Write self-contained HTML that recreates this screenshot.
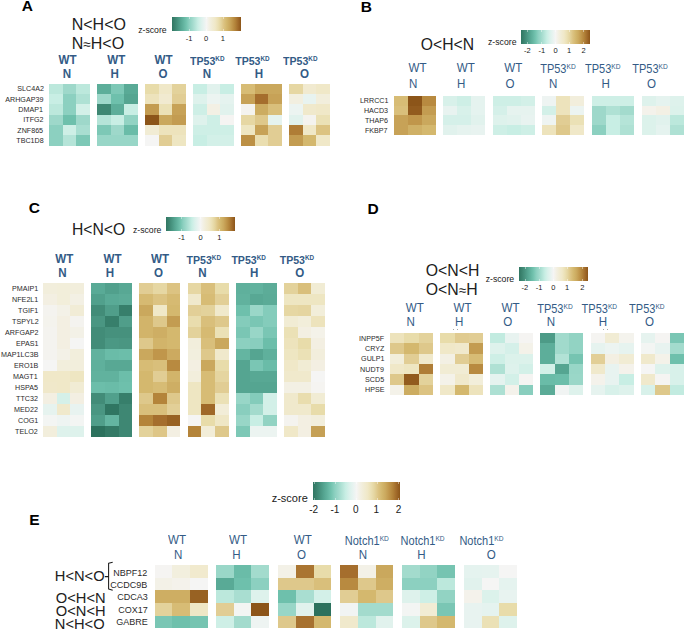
<!DOCTYPE html>
<html><head><meta charset="utf-8"><style>
html,body{margin:0;padding:0;background:#fff;}
body{width:685px;height:630px;position:relative;overflow:hidden;font-family:"Liberation Sans", sans-serif;}
body>div{position:absolute;}
.t{white-space:nowrap;}
sup{font-size:0.6em;vertical-align:0;position:relative;top:-0.58em;line-height:0;}
</style></head><body>
<div style="left:172px;top:17.2px;width:69px;height:13.8px;background:linear-gradient(to right,#307662 0.0%,#3c8470 4.2%,#489480 8.3%,#55a591 12.5%,#63b4a0 16.7%,#73c3af 20.8%,#8cd0c0 25.0%,#9fd9cb 29.2%,#b3e3d7 33.3%,#c8eee4 37.5%,#daf1eb 41.7%,#e7f3f0 45.8%,#f5f5f4 50.0%,#f3f0e3 54.2%,#f1ecd5 58.3%,#f0e8c8 62.5%,#ebe0b4 66.7%,#e4d49e 70.8%,#dcc382 75.0%,#d3b76d 79.2%,#cba95e 83.3%,#c0964b 87.5%,#b28239 91.7%,#a16a2a 95.8%,#8c5519 100.0%)"></div>
<div style="left:188.50px;top:17.2px;width:1px;height:2px;background:rgba(255,255,255,0.45)"></div>
<div style="left:188.50px;top:29.0px;width:1px;height:2px;background:rgba(255,255,255,0.45)"></div>
<div style="left:205.50px;top:17.2px;width:1px;height:2px;background:rgba(255,255,255,0.45)"></div>
<div style="left:205.50px;top:29.0px;width:1px;height:2px;background:rgba(255,255,255,0.45)"></div>
<div style="left:222.50px;top:17.2px;width:1px;height:2px;background:rgba(255,255,255,0.45)"></div>
<div style="left:222.50px;top:29.0px;width:1px;height:2px;background:rgba(255,255,255,0.45)"></div>
<div style="left:49.00px;top:83.60px;width:14.17px;height:10.83px;background:#bce8dc"></div>
<div style="left:62.67px;top:83.60px;width:14.17px;height:10.83px;background:#9ed8ca"></div>
<div style="left:76.33px;top:83.60px;width:13.67px;height:10.83px;background:#bce8dc"></div>
<div style="left:49.00px;top:93.93px;width:14.17px;height:10.83px;background:#c8eee4"></div>
<div style="left:62.67px;top:93.93px;width:14.17px;height:10.83px;background:#8cd0c0"></div>
<div style="left:76.33px;top:93.93px;width:13.67px;height:10.83px;background:#afe1d4"></div>
<div style="left:49.00px;top:104.26px;width:14.17px;height:10.83px;background:#bce8dc"></div>
<div style="left:62.67px;top:104.26px;width:14.17px;height:10.83px;background:#8cd0c0"></div>
<div style="left:76.33px;top:104.26px;width:13.67px;height:10.83px;background:#d3f0e8"></div>
<div style="left:49.00px;top:114.59px;width:14.17px;height:10.83px;background:#9ed8ca"></div>
<div style="left:62.67px;top:114.59px;width:14.17px;height:10.83px;background:#6ec0ac"></div>
<div style="left:76.33px;top:114.59px;width:13.67px;height:10.83px;background:#9ed8ca"></div>
<div style="left:49.00px;top:124.92px;width:14.17px;height:10.83px;background:#8cd0c0"></div>
<div style="left:62.67px;top:124.92px;width:14.17px;height:10.83px;background:#ceefe6"></div>
<div style="left:76.33px;top:124.92px;width:13.67px;height:10.83px;background:#a9ded1"></div>
<div style="left:49.00px;top:135.25px;width:14.17px;height:10.33px;background:#8cd0c0"></div>
<div style="left:62.67px;top:135.25px;width:14.17px;height:10.33px;background:#b5e4d8"></div>
<div style="left:76.33px;top:135.25px;width:13.67px;height:10.33px;background:#7dc8b6"></div>
<div style="left:97.00px;top:83.60px;width:14.17px;height:10.83px;background:#5dae9a"></div>
<div style="left:110.67px;top:83.60px;width:14.17px;height:10.83px;background:#7dc8b6"></div>
<div style="left:124.33px;top:83.60px;width:13.67px;height:10.83px;background:#59aa96"></div>
<div style="left:97.00px;top:93.93px;width:14.17px;height:10.83px;background:#9ed8ca"></div>
<div style="left:110.67px;top:93.93px;width:14.17px;height:10.83px;background:#6ec0ac"></div>
<div style="left:124.33px;top:93.93px;width:13.67px;height:10.83px;background:#55a591"></div>
<div style="left:97.00px;top:104.26px;width:14.17px;height:10.83px;background:#3e8773"></div>
<div style="left:110.67px;top:104.26px;width:14.17px;height:10.83px;background:#5dae9a"></div>
<div style="left:124.33px;top:104.26px;width:13.67px;height:10.83px;background:#c8eee4"></div>
<div style="left:97.00px;top:114.59px;width:14.17px;height:10.83px;background:#b5e4d8"></div>
<div style="left:110.67px;top:114.59px;width:14.17px;height:10.83px;background:#c8eee4"></div>
<div style="left:124.33px;top:114.59px;width:13.67px;height:10.83px;background:#92d3c3"></div>
<div style="left:97.00px;top:124.92px;width:14.17px;height:10.83px;background:#7dc8b6"></div>
<div style="left:110.67px;top:124.92px;width:14.17px;height:10.83px;background:#9ed8ca"></div>
<div style="left:124.33px;top:124.92px;width:13.67px;height:10.83px;background:#6abca8"></div>
<div style="left:97.00px;top:135.25px;width:14.17px;height:10.33px;background:#98d6c7"></div>
<div style="left:110.67px;top:135.25px;width:14.17px;height:10.33px;background:#98d6c7"></div>
<div style="left:124.33px;top:135.25px;width:13.67px;height:10.33px;background:#98d6c7"></div>
<div style="left:145.00px;top:83.60px;width:14.17px;height:10.83px;background:#e8dcaa"></div>
<div style="left:158.67px;top:83.60px;width:14.17px;height:10.83px;background:#f0e8c8"></div>
<div style="left:172.33px;top:83.60px;width:13.67px;height:10.83px;background:#e3d29b"></div>
<div style="left:145.00px;top:93.93px;width:14.17px;height:10.83px;background:#ede3bc"></div>
<div style="left:158.67px;top:93.93px;width:14.17px;height:10.83px;background:#f1ead0"></div>
<div style="left:172.33px;top:93.93px;width:13.67px;height:10.83px;background:#e1cd94"></div>
<div style="left:145.00px;top:104.26px;width:14.17px;height:10.83px;background:#c39c51"></div>
<div style="left:158.67px;top:104.26px;width:14.17px;height:10.83px;background:#ebe1b6"></div>
<div style="left:172.33px;top:104.26px;width:13.67px;height:10.83px;background:#c7a257"></div>
<div style="left:145.00px;top:114.59px;width:14.17px;height:10.83px;background:#8c5519"></div>
<div style="left:158.67px;top:114.59px;width:14.17px;height:10.83px;background:#caa85d"></div>
<div style="left:172.33px;top:114.59px;width:13.67px;height:10.83px;background:#c39c51"></div>
<div style="left:145.00px;top:124.92px;width:14.17px;height:10.83px;background:#f1ecd4"></div>
<div style="left:158.67px;top:124.92px;width:14.17px;height:10.83px;background:#ede3bc"></div>
<div style="left:172.33px;top:124.92px;width:13.67px;height:10.83px;background:#ede3bc"></div>
<div style="left:145.00px;top:135.25px;width:14.17px;height:10.33px;background:#f5f5f4"></div>
<div style="left:158.67px;top:135.25px;width:14.17px;height:10.33px;background:#e1cd94"></div>
<div style="left:172.33px;top:135.25px;width:13.67px;height:10.33px;background:#eee6c2"></div>
<div style="left:193.00px;top:83.60px;width:14.17px;height:10.83px;background:#c8eee4"></div>
<div style="left:206.67px;top:83.60px;width:14.17px;height:10.83px;background:#e1f2ed"></div>
<div style="left:220.33px;top:83.60px;width:13.67px;height:10.83px;background:#c8eee4"></div>
<div style="left:193.00px;top:93.93px;width:14.17px;height:10.83px;background:#def2ec"></div>
<div style="left:206.67px;top:93.93px;width:14.17px;height:10.83px;background:#ecf4f1"></div>
<div style="left:220.33px;top:93.93px;width:13.67px;height:10.83px;background:#e5f3ef"></div>
<div style="left:193.00px;top:104.26px;width:14.17px;height:10.83px;background:#ceefe6"></div>
<div style="left:206.67px;top:104.26px;width:14.17px;height:10.83px;background:#f3f0e4"></div>
<div style="left:220.33px;top:104.26px;width:13.67px;height:10.83px;background:#e1f2ed"></div>
<div style="left:193.00px;top:114.59px;width:14.17px;height:10.83px;background:#def2ec"></div>
<div style="left:206.67px;top:114.59px;width:14.17px;height:10.83px;background:#ceefe6"></div>
<div style="left:220.33px;top:114.59px;width:13.67px;height:10.83px;background:#f5f4f2"></div>
<div style="left:193.00px;top:124.92px;width:14.17px;height:10.83px;background:#ceefe6"></div>
<div style="left:206.67px;top:124.92px;width:14.17px;height:10.83px;background:#ceefe6"></div>
<div style="left:220.33px;top:124.92px;width:13.67px;height:10.83px;background:#ceefe6"></div>
<div style="left:193.00px;top:135.25px;width:14.17px;height:10.33px;background:#c8eee4"></div>
<div style="left:206.67px;top:135.25px;width:14.17px;height:10.33px;background:#d3f0e8"></div>
<div style="left:220.33px;top:135.25px;width:13.67px;height:10.33px;background:#d3f0e8"></div>
<div style="left:241.00px;top:83.60px;width:14.17px;height:10.83px;background:#d7bc75"></div>
<div style="left:254.67px;top:83.60px;width:14.17px;height:10.83px;background:#caa85d"></div>
<div style="left:268.33px;top:83.60px;width:13.67px;height:10.83px;background:#caa85d"></div>
<div style="left:241.00px;top:93.93px;width:14.17px;height:10.83px;background:#c7a257"></div>
<div style="left:254.67px;top:93.93px;width:14.17px;height:10.83px;background:#a56e2d"></div>
<div style="left:268.33px;top:93.93px;width:13.67px;height:10.83px;background:#c7a257"></div>
<div style="left:241.00px;top:104.26px;width:14.17px;height:10.83px;background:#f4f3ef"></div>
<div style="left:254.67px;top:104.26px;width:14.17px;height:10.83px;background:#ccac61"></div>
<div style="left:268.33px;top:104.26px;width:13.67px;height:10.83px;background:#d9bf7b"></div>
<div style="left:241.00px;top:114.59px;width:14.17px;height:10.83px;background:#e6d7a3"></div>
<div style="left:254.67px;top:114.59px;width:14.17px;height:10.83px;background:#dec88b"></div>
<div style="left:268.33px;top:114.59px;width:13.67px;height:10.83px;background:#e5f3ef"></div>
<div style="left:241.00px;top:124.92px;width:14.17px;height:10.83px;background:#eee6c2"></div>
<div style="left:254.67px;top:124.92px;width:14.17px;height:10.83px;background:#c7a257"></div>
<div style="left:268.33px;top:124.92px;width:13.67px;height:10.83px;background:#e1cd94"></div>
<div style="left:241.00px;top:135.25px;width:14.17px;height:10.33px;background:#bc9045"></div>
<div style="left:254.67px;top:135.25px;width:14.17px;height:10.33px;background:#eadeb0"></div>
<div style="left:268.33px;top:135.25px;width:13.67px;height:10.33px;background:#e1cd94"></div>
<div style="left:289.00px;top:83.60px;width:14.17px;height:10.83px;background:#e6d7a3"></div>
<div style="left:302.67px;top:83.60px;width:14.17px;height:10.83px;background:#f1ead0"></div>
<div style="left:316.33px;top:83.60px;width:13.67px;height:10.83px;background:#f0e8c8"></div>
<div style="left:289.00px;top:93.93px;width:14.17px;height:10.83px;background:#f2efe0"></div>
<div style="left:302.67px;top:93.93px;width:14.17px;height:10.83px;background:#e8f3f0"></div>
<div style="left:316.33px;top:93.93px;width:13.67px;height:10.83px;background:#f2eedc"></div>
<div style="left:289.00px;top:104.26px;width:14.17px;height:10.83px;background:#ecf4f1"></div>
<div style="left:302.67px;top:104.26px;width:14.17px;height:10.83px;background:#f0e9cc"></div>
<div style="left:316.33px;top:104.26px;width:13.67px;height:10.83px;background:#f0e8c8"></div>
<div style="left:289.00px;top:114.59px;width:14.17px;height:10.83px;background:#e1f2ed"></div>
<div style="left:302.67px;top:114.59px;width:14.17px;height:10.83px;background:#f4f3ef"></div>
<div style="left:316.33px;top:114.59px;width:13.67px;height:10.83px;background:#ebe1b6"></div>
<div style="left:289.00px;top:124.92px;width:14.17px;height:10.83px;background:#af7d36"></div>
<div style="left:302.67px;top:124.92px;width:14.17px;height:10.83px;background:#f0e8c8"></div>
<div style="left:316.33px;top:124.92px;width:13.67px;height:10.83px;background:#dcc382"></div>
<div style="left:289.00px;top:135.25px;width:14.17px;height:10.33px;background:#c39c51"></div>
<div style="left:302.67px;top:135.25px;width:14.17px;height:10.33px;background:#d4b86e"></div>
<div style="left:316.33px;top:135.25px;width:13.67px;height:10.33px;background:#f0e8c8"></div>
<div style="left:521px;top:29.9px;width:69px;height:13.8px;background:linear-gradient(to right,#307662 0.0%,#3c8470 4.2%,#489480 8.3%,#55a591 12.5%,#63b4a0 16.7%,#73c3af 20.8%,#8cd0c0 25.0%,#9fd9cb 29.2%,#b3e3d7 33.3%,#c8eee4 37.5%,#daf1eb 41.7%,#e7f3f0 45.8%,#f5f5f4 50.0%,#f3f0e3 54.2%,#f1ecd5 58.3%,#f0e8c8 62.5%,#ebe0b4 66.7%,#e4d49e 70.8%,#dcc382 75.0%,#d3b76d 79.2%,#cba95e 83.3%,#c0964b 87.5%,#b28239 91.7%,#a16a2a 95.8%,#8c5519 100.0%)"></div>
<div style="left:527.00px;top:29.9px;width:1px;height:2px;background:rgba(255,255,255,0.45)"></div>
<div style="left:527.00px;top:41.7px;width:1px;height:2px;background:rgba(255,255,255,0.45)"></div>
<div style="left:541.00px;top:29.9px;width:1px;height:2px;background:rgba(255,255,255,0.45)"></div>
<div style="left:541.00px;top:41.7px;width:1px;height:2px;background:rgba(255,255,255,0.45)"></div>
<div style="left:555.00px;top:29.9px;width:1px;height:2px;background:rgba(255,255,255,0.45)"></div>
<div style="left:555.00px;top:41.7px;width:1px;height:2px;background:rgba(255,255,255,0.45)"></div>
<div style="left:569.00px;top:29.9px;width:1px;height:2px;background:rgba(255,255,255,0.45)"></div>
<div style="left:569.00px;top:41.7px;width:1px;height:2px;background:rgba(255,255,255,0.45)"></div>
<div style="left:583.00px;top:29.9px;width:1px;height:2px;background:rgba(255,255,255,0.45)"></div>
<div style="left:583.00px;top:41.7px;width:1px;height:2px;background:rgba(255,255,255,0.45)"></div>
<div style="left:394.00px;top:95.90px;width:14.67px;height:10.25px;background:#d7bc75"></div>
<div style="left:408.17px;top:95.90px;width:14.67px;height:10.25px;background:#8c5519"></div>
<div style="left:422.33px;top:95.90px;width:14.17px;height:10.25px;background:#b88a40"></div>
<div style="left:394.00px;top:105.65px;width:14.67px;height:10.25px;background:#d9bf7b"></div>
<div style="left:408.17px;top:105.65px;width:14.67px;height:10.25px;background:#925b1e"></div>
<div style="left:422.33px;top:105.65px;width:14.17px;height:10.25px;background:#c39c51"></div>
<div style="left:394.00px;top:115.40px;width:14.67px;height:10.25px;background:#c7a257"></div>
<div style="left:408.17px;top:115.40px;width:14.67px;height:10.25px;background:#c0964b"></div>
<div style="left:422.33px;top:115.40px;width:14.17px;height:10.25px;background:#caa85d"></div>
<div style="left:394.00px;top:125.15px;width:14.67px;height:9.75px;background:#c7a257"></div>
<div style="left:408.17px;top:125.15px;width:14.67px;height:9.75px;background:#cfb066"></div>
<div style="left:422.33px;top:125.15px;width:14.17px;height:9.75px;background:#d4b86e"></div>
<div style="left:443.00px;top:95.90px;width:14.67px;height:10.25px;background:#d8f1ea"></div>
<div style="left:457.17px;top:95.90px;width:14.67px;height:10.25px;background:#ceefe6"></div>
<div style="left:471.33px;top:95.90px;width:14.17px;height:10.25px;background:#e5f3ef"></div>
<div style="left:443.00px;top:105.65px;width:14.67px;height:10.25px;background:#e8f3f0"></div>
<div style="left:457.17px;top:105.65px;width:14.67px;height:10.25px;background:#d8f1ea"></div>
<div style="left:471.33px;top:105.65px;width:14.17px;height:10.25px;background:#e5f3ef"></div>
<div style="left:443.00px;top:115.40px;width:14.67px;height:10.25px;background:#d5f0e9"></div>
<div style="left:457.17px;top:115.40px;width:14.67px;height:10.25px;background:#d5f0e9"></div>
<div style="left:471.33px;top:115.40px;width:14.17px;height:10.25px;background:#e1f2ed"></div>
<div style="left:443.00px;top:125.15px;width:14.67px;height:9.75px;background:#e1f2ed"></div>
<div style="left:457.17px;top:125.15px;width:14.67px;height:9.75px;background:#e6f3ef"></div>
<div style="left:471.33px;top:125.15px;width:14.17px;height:9.75px;background:#e8f3f0"></div>
<div style="left:493.00px;top:95.90px;width:14.67px;height:10.25px;background:#ceefe6"></div>
<div style="left:507.17px;top:95.90px;width:14.67px;height:10.25px;background:#ceefe6"></div>
<div style="left:521.33px;top:95.90px;width:14.17px;height:10.25px;background:#d3f0e8"></div>
<div style="left:493.00px;top:105.65px;width:14.67px;height:10.25px;background:#d5f0e9"></div>
<div style="left:507.17px;top:105.65px;width:14.67px;height:10.25px;background:#e6f3ef"></div>
<div style="left:521.33px;top:105.65px;width:14.17px;height:10.25px;background:#e6f3ef"></div>
<div style="left:493.00px;top:115.40px;width:14.67px;height:10.25px;background:#def2ec"></div>
<div style="left:507.17px;top:115.40px;width:14.67px;height:10.25px;background:#e1f2ed"></div>
<div style="left:521.33px;top:115.40px;width:14.17px;height:10.25px;background:#e8f3f0"></div>
<div style="left:493.00px;top:125.15px;width:14.67px;height:9.75px;background:#ceefe6"></div>
<div style="left:507.17px;top:125.15px;width:14.67px;height:9.75px;background:#c8eee4"></div>
<div style="left:521.33px;top:125.15px;width:14.17px;height:9.75px;background:#ceefe6"></div>
<div style="left:542.00px;top:95.90px;width:14.67px;height:10.25px;background:#eef4f2"></div>
<div style="left:556.17px;top:95.90px;width:14.67px;height:10.25px;background:#ede3bc"></div>
<div style="left:570.33px;top:95.90px;width:14.17px;height:10.25px;background:#f2eedc"></div>
<div style="left:542.00px;top:105.65px;width:14.67px;height:10.25px;background:#d3f0e8"></div>
<div style="left:556.17px;top:105.65px;width:14.67px;height:10.25px;background:#ede3bc"></div>
<div style="left:570.33px;top:105.65px;width:14.17px;height:10.25px;background:#ecf4f1"></div>
<div style="left:542.00px;top:115.40px;width:14.67px;height:10.25px;background:#eef4f2"></div>
<div style="left:556.17px;top:115.40px;width:14.67px;height:10.25px;background:#e1cd94"></div>
<div style="left:570.33px;top:115.40px;width:14.17px;height:10.25px;background:#ebe1b6"></div>
<div style="left:542.00px;top:125.15px;width:14.67px;height:9.75px;background:#ede3bc"></div>
<div style="left:556.17px;top:125.15px;width:14.67px;height:9.75px;background:#dec88b"></div>
<div style="left:570.33px;top:125.15px;width:14.17px;height:9.75px;background:#f0e8c8"></div>
<div style="left:592.00px;top:95.90px;width:14.67px;height:10.25px;background:#ceefe6"></div>
<div style="left:606.17px;top:95.90px;width:14.67px;height:10.25px;background:#ceefe6"></div>
<div style="left:620.33px;top:95.90px;width:14.17px;height:10.25px;background:#ceefe6"></div>
<div style="left:592.00px;top:105.65px;width:14.67px;height:10.25px;background:#9ed8ca"></div>
<div style="left:606.17px;top:105.65px;width:14.67px;height:10.25px;background:#afe1d4"></div>
<div style="left:620.33px;top:105.65px;width:14.17px;height:10.25px;background:#a3dbcd"></div>
<div style="left:592.00px;top:115.40px;width:14.67px;height:10.25px;background:#9ed8ca"></div>
<div style="left:606.17px;top:115.40px;width:14.67px;height:10.25px;background:#c8eee4"></div>
<div style="left:620.33px;top:115.40px;width:14.17px;height:10.25px;background:#b5e4d8"></div>
<div style="left:592.00px;top:125.15px;width:14.67px;height:9.75px;background:#8cd0c0"></div>
<div style="left:606.17px;top:125.15px;width:14.67px;height:9.75px;background:#c8eee4"></div>
<div style="left:620.33px;top:125.15px;width:14.17px;height:9.75px;background:#afe1d4"></div>
<div style="left:641.60px;top:95.90px;width:14.67px;height:10.25px;background:#def2ec"></div>
<div style="left:655.77px;top:95.90px;width:14.67px;height:10.25px;background:#e5f3ef"></div>
<div style="left:669.93px;top:95.90px;width:14.17px;height:10.25px;background:#def2ec"></div>
<div style="left:641.60px;top:105.65px;width:14.67px;height:10.25px;background:#f4f2eb"></div>
<div style="left:655.77px;top:105.65px;width:14.67px;height:10.25px;background:#f3f0e4"></div>
<div style="left:669.93px;top:105.65px;width:14.17px;height:10.25px;background:#dcf2eb"></div>
<div style="left:641.60px;top:115.40px;width:14.67px;height:10.25px;background:#dcf2eb"></div>
<div style="left:655.77px;top:115.40px;width:14.67px;height:10.25px;background:#e1f2ed"></div>
<div style="left:669.93px;top:115.40px;width:14.17px;height:10.25px;background:#bce8dc"></div>
<div style="left:641.60px;top:125.15px;width:14.67px;height:9.75px;background:#dcf2eb"></div>
<div style="left:655.77px;top:125.15px;width:14.67px;height:9.75px;background:#e5f3ef"></div>
<div style="left:669.93px;top:125.15px;width:14.17px;height:9.75px;background:#afe1d4"></div>
<div style="left:166.2px;top:217px;width:69.2px;height:13.7px;background:linear-gradient(to right,#307662 0.0%,#3c8470 4.2%,#489480 8.3%,#55a591 12.5%,#63b4a0 16.7%,#73c3af 20.8%,#8cd0c0 25.0%,#9fd9cb 29.2%,#b3e3d7 33.3%,#c8eee4 37.5%,#daf1eb 41.7%,#e7f3f0 45.8%,#f5f5f4 50.0%,#f3f0e3 54.2%,#f1ecd5 58.3%,#f0e8c8 62.5%,#ebe0b4 66.7%,#e4d49e 70.8%,#dcc382 75.0%,#d3b76d 79.2%,#cba95e 83.3%,#c0964b 87.5%,#b28239 91.7%,#a16a2a 95.8%,#8c5519 100.0%)"></div>
<div style="left:181.00px;top:217px;width:1px;height:2px;background:rgba(255,255,255,0.45)"></div>
<div style="left:181.00px;top:228.7px;width:1px;height:2px;background:rgba(255,255,255,0.45)"></div>
<div style="left:200.00px;top:217px;width:1px;height:2px;background:rgba(255,255,255,0.45)"></div>
<div style="left:200.00px;top:228.7px;width:1px;height:2px;background:rgba(255,255,255,0.45)"></div>
<div style="left:219.00px;top:217px;width:1px;height:2px;background:rgba(255,255,255,0.45)"></div>
<div style="left:219.00px;top:228.7px;width:1px;height:2px;background:rgba(255,255,255,0.45)"></div>
<div style="left:43.10px;top:283.10px;width:14.17px;height:11.47px;background:#f2eedc"></div>
<div style="left:56.77px;top:283.10px;width:14.17px;height:11.47px;background:#f2eeda"></div>
<div style="left:70.43px;top:283.10px;width:13.67px;height:11.47px;background:#f2eedc"></div>
<div style="left:43.10px;top:294.07px;width:14.17px;height:11.47px;background:#f3efe2"></div>
<div style="left:56.77px;top:294.07px;width:14.17px;height:11.47px;background:#f2eeda"></div>
<div style="left:70.43px;top:294.07px;width:13.67px;height:11.47px;background:#f3f0e4"></div>
<div style="left:43.10px;top:305.04px;width:14.17px;height:11.47px;background:#f4f3ef"></div>
<div style="left:56.77px;top:305.04px;width:14.17px;height:11.47px;background:#f3f1e7"></div>
<div style="left:70.43px;top:305.04px;width:13.67px;height:11.47px;background:#f1ecd6"></div>
<div style="left:43.10px;top:316.01px;width:14.17px;height:11.47px;background:#f4f3ed"></div>
<div style="left:56.77px;top:316.01px;width:14.17px;height:11.47px;background:#f3efe2"></div>
<div style="left:70.43px;top:316.01px;width:13.67px;height:11.47px;background:#f4f3ef"></div>
<div style="left:43.10px;top:326.98px;width:14.17px;height:11.47px;background:#f4f3ef"></div>
<div style="left:56.77px;top:326.98px;width:14.17px;height:11.47px;background:#f3efe2"></div>
<div style="left:70.43px;top:326.98px;width:13.67px;height:11.47px;background:#f3f1e7"></div>
<div style="left:43.10px;top:337.95px;width:14.17px;height:11.47px;background:#f4f3ef"></div>
<div style="left:56.77px;top:337.95px;width:14.17px;height:11.47px;background:#f3efe2"></div>
<div style="left:70.43px;top:337.95px;width:13.67px;height:11.47px;background:#f5f5f4"></div>
<div style="left:43.10px;top:348.92px;width:14.17px;height:11.47px;background:#f4f3ef"></div>
<div style="left:56.77px;top:348.92px;width:14.17px;height:11.47px;background:#f3f1e7"></div>
<div style="left:70.43px;top:348.92px;width:13.67px;height:11.47px;background:#f2eedc"></div>
<div style="left:43.10px;top:359.89px;width:14.17px;height:11.47px;background:#f5f5f4"></div>
<div style="left:56.77px;top:359.89px;width:14.17px;height:11.47px;background:#f2eedc"></div>
<div style="left:70.43px;top:359.89px;width:13.67px;height:11.47px;background:#f2eedc"></div>
<div style="left:43.10px;top:370.86px;width:14.17px;height:11.47px;background:#f0e8c8"></div>
<div style="left:56.77px;top:370.86px;width:14.17px;height:11.47px;background:#f0e8c8"></div>
<div style="left:70.43px;top:370.86px;width:13.67px;height:11.47px;background:#eee6c2"></div>
<div style="left:43.10px;top:381.83px;width:14.17px;height:11.47px;background:#f0e8ca"></div>
<div style="left:56.77px;top:381.83px;width:14.17px;height:11.47px;background:#f0e8c8"></div>
<div style="left:70.43px;top:381.83px;width:13.67px;height:11.47px;background:#f1ecd4"></div>
<div style="left:43.10px;top:392.80px;width:14.17px;height:11.47px;background:#f3efe2"></div>
<div style="left:56.77px;top:392.80px;width:14.17px;height:11.47px;background:#d5f0e9"></div>
<div style="left:70.43px;top:392.80px;width:13.67px;height:11.47px;background:#f3efe2"></div>
<div style="left:43.10px;top:403.77px;width:14.17px;height:11.47px;background:#e6f3ef"></div>
<div style="left:56.77px;top:403.77px;width:14.17px;height:11.47px;background:#f0e9cc"></div>
<div style="left:70.43px;top:403.77px;width:13.67px;height:11.47px;background:#e8f3f0"></div>
<div style="left:43.10px;top:414.74px;width:14.17px;height:11.47px;background:#f3f5f3"></div>
<div style="left:56.77px;top:414.74px;width:14.17px;height:11.47px;background:#eef4f2"></div>
<div style="left:70.43px;top:414.74px;width:13.67px;height:11.47px;background:#f3f5f3"></div>
<div style="left:43.10px;top:425.71px;width:14.17px;height:10.97px;background:#f2eedc"></div>
<div style="left:56.77px;top:425.71px;width:14.17px;height:10.97px;background:#def2ec"></div>
<div style="left:70.43px;top:425.71px;width:13.67px;height:10.97px;background:#def2ec"></div>
<div style="left:91.20px;top:283.10px;width:14.17px;height:11.47px;background:#59aa96"></div>
<div style="left:104.87px;top:283.10px;width:14.17px;height:11.47px;background:#51a08c"></div>
<div style="left:118.53px;top:283.10px;width:13.67px;height:11.47px;background:#58a894"></div>
<div style="left:91.20px;top:294.07px;width:14.17px;height:11.47px;background:#51a08c"></div>
<div style="left:104.87px;top:294.07px;width:14.17px;height:11.47px;background:#59aa96"></div>
<div style="left:118.53px;top:294.07px;width:13.67px;height:11.47px;background:#5cac98"></div>
<div style="left:91.20px;top:305.04px;width:14.17px;height:11.47px;background:#428c78"></div>
<div style="left:104.87px;top:305.04px;width:14.17px;height:11.47px;background:#509e8a"></div>
<div style="left:118.53px;top:305.04px;width:13.67px;height:11.47px;background:#377f6b"></div>
<div style="left:91.20px;top:316.01px;width:14.17px;height:11.47px;background:#4a9682"></div>
<div style="left:104.87px;top:316.01px;width:14.17px;height:11.47px;background:#377f6b"></div>
<div style="left:118.53px;top:316.01px;width:13.67px;height:11.47px;background:#509e8a"></div>
<div style="left:91.20px;top:326.98px;width:14.17px;height:11.47px;background:#428c78"></div>
<div style="left:104.87px;top:326.98px;width:14.17px;height:11.47px;background:#46917d"></div>
<div style="left:118.53px;top:326.98px;width:13.67px;height:11.47px;background:#46917d"></div>
<div style="left:91.20px;top:337.95px;width:14.17px;height:11.47px;background:#428c78"></div>
<div style="left:104.87px;top:337.95px;width:14.17px;height:11.47px;background:#4b9884"></div>
<div style="left:118.53px;top:337.95px;width:13.67px;height:11.47px;background:#4a9682"></div>
<div style="left:91.20px;top:348.92px;width:14.17px;height:11.47px;background:#61b29e"></div>
<div style="left:104.87px;top:348.92px;width:14.17px;height:11.47px;background:#6abca8"></div>
<div style="left:118.53px;top:348.92px;width:13.67px;height:11.47px;background:#6cbeaa"></div>
<div style="left:91.20px;top:359.89px;width:14.17px;height:11.47px;background:#5fb09c"></div>
<div style="left:104.87px;top:359.89px;width:14.17px;height:11.47px;background:#58a894"></div>
<div style="left:118.53px;top:359.89px;width:13.67px;height:11.47px;background:#58a894"></div>
<div style="left:91.20px;top:370.86px;width:14.17px;height:11.47px;background:#61b29e"></div>
<div style="left:104.87px;top:370.86px;width:14.17px;height:11.47px;background:#61b29e"></div>
<div style="left:118.53px;top:370.86px;width:13.67px;height:11.47px;background:#6cbeaa"></div>
<div style="left:91.20px;top:381.83px;width:14.17px;height:11.47px;background:#6cbeaa"></div>
<div style="left:104.87px;top:381.83px;width:14.17px;height:11.47px;background:#6abca8"></div>
<div style="left:118.53px;top:381.83px;width:13.67px;height:11.47px;background:#6ec0ac"></div>
<div style="left:91.20px;top:392.80px;width:14.17px;height:11.47px;background:#428c78"></div>
<div style="left:104.87px;top:392.80px;width:14.17px;height:11.47px;background:#51a08c"></div>
<div style="left:118.53px;top:392.80px;width:13.67px;height:11.47px;background:#377f6b"></div>
<div style="left:91.20px;top:403.77px;width:14.17px;height:11.47px;background:#4a9682"></div>
<div style="left:104.87px;top:403.77px;width:14.17px;height:11.47px;background:#307662"></div>
<div style="left:118.53px;top:403.77px;width:13.67px;height:11.47px;background:#3e8773"></div>
<div style="left:91.20px;top:414.74px;width:14.17px;height:11.47px;background:#509e8a"></div>
<div style="left:104.87px;top:414.74px;width:14.17px;height:11.47px;background:#64b5a1"></div>
<div style="left:118.53px;top:414.74px;width:13.67px;height:11.47px;background:#3e8773"></div>
<div style="left:91.20px;top:425.71px;width:14.17px;height:10.97px;background:#2c715d"></div>
<div style="left:104.87px;top:425.71px;width:14.17px;height:10.97px;background:#347a66"></div>
<div style="left:118.53px;top:425.71px;width:13.67px;height:10.97px;background:#3e8773"></div>
<div style="left:139.30px;top:283.10px;width:14.17px;height:11.47px;background:#e1cd94"></div>
<div style="left:152.97px;top:283.10px;width:14.17px;height:11.47px;background:#e6d7a3"></div>
<div style="left:166.63px;top:283.10px;width:13.67px;height:11.47px;background:#dcc382"></div>
<div style="left:139.30px;top:294.07px;width:14.17px;height:11.47px;background:#d6ba72"></div>
<div style="left:152.97px;top:294.07px;width:14.17px;height:11.47px;background:#dcc382"></div>
<div style="left:166.63px;top:294.07px;width:13.67px;height:11.47px;background:#d6ba72"></div>
<div style="left:139.30px;top:305.04px;width:14.17px;height:11.47px;background:#caa85d"></div>
<div style="left:152.97px;top:305.04px;width:14.17px;height:11.47px;background:#f0e8c8"></div>
<div style="left:166.63px;top:305.04px;width:13.67px;height:11.47px;background:#d4b86e"></div>
<div style="left:139.30px;top:316.01px;width:14.17px;height:11.47px;background:#d2b46a"></div>
<div style="left:152.97px;top:316.01px;width:14.17px;height:11.47px;background:#dec88b"></div>
<div style="left:166.63px;top:316.01px;width:13.67px;height:11.47px;background:#c39c51"></div>
<div style="left:139.30px;top:326.98px;width:14.17px;height:11.47px;background:#d2b46a"></div>
<div style="left:152.97px;top:326.98px;width:14.17px;height:11.47px;background:#ceae64"></div>
<div style="left:166.63px;top:326.98px;width:13.67px;height:11.47px;background:#d4b86e"></div>
<div style="left:139.30px;top:337.95px;width:14.17px;height:11.47px;background:#dec88b"></div>
<div style="left:152.97px;top:337.95px;width:14.17px;height:11.47px;background:#d2b46a"></div>
<div style="left:166.63px;top:337.95px;width:13.67px;height:11.47px;background:#d4b86e"></div>
<div style="left:139.30px;top:348.92px;width:14.17px;height:11.47px;background:#caa85d"></div>
<div style="left:152.97px;top:348.92px;width:14.17px;height:11.47px;background:#c0964b"></div>
<div style="left:166.63px;top:348.92px;width:13.67px;height:11.47px;background:#ccaa60"></div>
<div style="left:139.30px;top:359.89px;width:14.17px;height:11.47px;background:#d7bc75"></div>
<div style="left:152.97px;top:359.89px;width:14.17px;height:11.47px;background:#d9bf7b"></div>
<div style="left:166.63px;top:359.89px;width:13.67px;height:11.47px;background:#b88a40"></div>
<div style="left:139.30px;top:370.86px;width:14.17px;height:11.47px;background:#d4b86e"></div>
<div style="left:152.97px;top:370.86px;width:14.17px;height:11.47px;background:#e1cd94"></div>
<div style="left:166.63px;top:370.86px;width:13.67px;height:11.47px;background:#d2b46a"></div>
<div style="left:139.30px;top:381.83px;width:14.17px;height:11.47px;background:#d4b86e"></div>
<div style="left:152.97px;top:381.83px;width:14.17px;height:11.47px;background:#d7bc75"></div>
<div style="left:166.63px;top:381.83px;width:13.67px;height:11.47px;background:#ceae64"></div>
<div style="left:139.30px;top:392.80px;width:14.17px;height:11.47px;background:#dec88b"></div>
<div style="left:152.97px;top:392.80px;width:14.17px;height:11.47px;background:#b4843a"></div>
<div style="left:166.63px;top:392.80px;width:13.67px;height:11.47px;background:#dec88b"></div>
<div style="left:139.30px;top:403.77px;width:14.17px;height:11.47px;background:#d9bf7b"></div>
<div style="left:152.97px;top:403.77px;width:14.17px;height:11.47px;background:#d9bf7b"></div>
<div style="left:166.63px;top:403.77px;width:13.67px;height:11.47px;background:#e2cf97"></div>
<div style="left:139.30px;top:414.74px;width:14.17px;height:11.47px;background:#b4843a"></div>
<div style="left:152.97px;top:414.74px;width:14.17px;height:11.47px;background:#a56e2d"></div>
<div style="left:166.63px;top:414.74px;width:13.67px;height:11.47px;background:#986223"></div>
<div style="left:139.30px;top:425.71px;width:14.17px;height:10.97px;background:#e3d29b"></div>
<div style="left:152.97px;top:425.71px;width:14.17px;height:10.97px;background:#dec687"></div>
<div style="left:166.63px;top:425.71px;width:13.67px;height:10.97px;background:#f3efe2"></div>
<div style="left:187.80px;top:283.10px;width:14.17px;height:11.47px;background:#e6d7a3"></div>
<div style="left:201.47px;top:283.10px;width:14.17px;height:11.47px;background:#d9bf7b"></div>
<div style="left:215.13px;top:283.10px;width:13.67px;height:11.47px;background:#e8dcaa"></div>
<div style="left:187.80px;top:294.07px;width:14.17px;height:11.47px;background:#f0e9cc"></div>
<div style="left:201.47px;top:294.07px;width:14.17px;height:11.47px;background:#d7bc75"></div>
<div style="left:215.13px;top:294.07px;width:13.67px;height:11.47px;background:#e2cf97"></div>
<div style="left:187.80px;top:305.04px;width:14.17px;height:11.47px;background:#e2cf97"></div>
<div style="left:201.47px;top:305.04px;width:14.17px;height:11.47px;background:#e3d29b"></div>
<div style="left:215.13px;top:305.04px;width:13.67px;height:11.47px;background:#f0e9cc"></div>
<div style="left:187.80px;top:316.01px;width:14.17px;height:11.47px;background:#e9ddae"></div>
<div style="left:201.47px;top:316.01px;width:14.17px;height:11.47px;background:#d9bf7b"></div>
<div style="left:215.13px;top:316.01px;width:13.67px;height:11.47px;background:#dec88b"></div>
<div style="left:187.80px;top:326.98px;width:14.17px;height:11.47px;background:#e3d29b"></div>
<div style="left:201.47px;top:326.98px;width:14.17px;height:11.47px;background:#d6ba72"></div>
<div style="left:215.13px;top:326.98px;width:13.67px;height:11.47px;background:#ebe1b6"></div>
<div style="left:187.80px;top:337.95px;width:14.17px;height:11.47px;background:#f2eedc"></div>
<div style="left:201.47px;top:337.95px;width:14.17px;height:11.47px;background:#d9bf7b"></div>
<div style="left:215.13px;top:337.95px;width:13.67px;height:11.47px;background:#caa85d"></div>
<div style="left:187.80px;top:348.92px;width:14.17px;height:11.47px;background:#f2efde"></div>
<div style="left:201.47px;top:348.92px;width:14.17px;height:11.47px;background:#dec88b"></div>
<div style="left:215.13px;top:348.92px;width:13.67px;height:11.47px;background:#f0e9cc"></div>
<div style="left:187.80px;top:359.89px;width:14.17px;height:11.47px;background:#f3efe2"></div>
<div style="left:201.47px;top:359.89px;width:14.17px;height:11.47px;background:#caa85d"></div>
<div style="left:215.13px;top:359.89px;width:13.67px;height:11.47px;background:#e8dcaa"></div>
<div style="left:187.80px;top:370.86px;width:14.17px;height:11.47px;background:#f2eedc"></div>
<div style="left:201.47px;top:370.86px;width:14.17px;height:11.47px;background:#d7bc75"></div>
<div style="left:215.13px;top:370.86px;width:13.67px;height:11.47px;background:#e5d5a0"></div>
<div style="left:187.80px;top:381.83px;width:14.17px;height:11.47px;background:#eee6c2"></div>
<div style="left:201.47px;top:381.83px;width:14.17px;height:11.47px;background:#d7bc75"></div>
<div style="left:215.13px;top:381.83px;width:13.67px;height:11.47px;background:#e1cd94"></div>
<div style="left:187.80px;top:392.80px;width:14.17px;height:11.47px;background:#eee6c2"></div>
<div style="left:201.47px;top:392.80px;width:14.17px;height:11.47px;background:#d7bc75"></div>
<div style="left:215.13px;top:392.80px;width:13.67px;height:11.47px;background:#ebe1b6"></div>
<div style="left:187.80px;top:403.77px;width:14.17px;height:11.47px;background:#eee6c2"></div>
<div style="left:201.47px;top:403.77px;width:14.17px;height:11.47px;background:#9f6828"></div>
<div style="left:215.13px;top:403.77px;width:13.67px;height:11.47px;background:#f2edd8"></div>
<div style="left:187.80px;top:414.74px;width:14.17px;height:11.47px;background:#f5f5f4"></div>
<div style="left:201.47px;top:414.74px;width:14.17px;height:11.47px;background:#e8dcaa"></div>
<div style="left:215.13px;top:414.74px;width:13.67px;height:11.47px;background:#efe7c6"></div>
<div style="left:187.80px;top:425.71px;width:14.17px;height:10.97px;background:#b4843a"></div>
<div style="left:201.47px;top:425.71px;width:14.17px;height:10.97px;background:#f2edd8"></div>
<div style="left:215.13px;top:425.71px;width:13.67px;height:10.97px;background:#dec88b"></div>
<div style="left:236.00px;top:283.10px;width:14.17px;height:11.47px;background:#5fb09c"></div>
<div style="left:249.67px;top:283.10px;width:14.17px;height:11.47px;background:#61b29e"></div>
<div style="left:263.33px;top:283.10px;width:13.67px;height:11.47px;background:#5cac98"></div>
<div style="left:236.00px;top:294.07px;width:14.17px;height:11.47px;background:#61b29e"></div>
<div style="left:249.67px;top:294.07px;width:14.17px;height:11.47px;background:#58a894"></div>
<div style="left:263.33px;top:294.07px;width:13.67px;height:11.47px;background:#5bab97"></div>
<div style="left:236.00px;top:305.04px;width:14.17px;height:11.47px;background:#6ec0ac"></div>
<div style="left:249.67px;top:305.04px;width:14.17px;height:11.47px;background:#9ad7c8"></div>
<div style="left:263.33px;top:305.04px;width:13.67px;height:11.47px;background:#84ccbb"></div>
<div style="left:236.00px;top:316.01px;width:14.17px;height:11.47px;background:#84ccbb"></div>
<div style="left:249.67px;top:316.01px;width:14.17px;height:11.47px;background:#7ac6b4"></div>
<div style="left:263.33px;top:316.01px;width:13.67px;height:11.47px;background:#84ccbb"></div>
<div style="left:236.00px;top:326.98px;width:14.17px;height:11.47px;background:#7ac6b4"></div>
<div style="left:249.67px;top:326.98px;width:14.17px;height:11.47px;background:#98d6c7"></div>
<div style="left:263.33px;top:326.98px;width:13.67px;height:11.47px;background:#7ac6b4"></div>
<div style="left:236.00px;top:337.95px;width:14.17px;height:11.47px;background:#8cd0c0"></div>
<div style="left:249.67px;top:337.95px;width:14.17px;height:11.47px;background:#89cebe"></div>
<div style="left:263.33px;top:337.95px;width:13.67px;height:11.47px;background:#6cbeaa"></div>
<div style="left:236.00px;top:348.92px;width:14.17px;height:11.47px;background:#64b5a1"></div>
<div style="left:249.67px;top:348.92px;width:14.17px;height:11.47px;background:#55a591"></div>
<div style="left:263.33px;top:348.92px;width:13.67px;height:11.47px;background:#5fb09c"></div>
<div style="left:236.00px;top:359.89px;width:14.17px;height:11.47px;background:#55a591"></div>
<div style="left:249.67px;top:359.89px;width:14.17px;height:11.47px;background:#7ac6b4"></div>
<div style="left:263.33px;top:359.89px;width:13.67px;height:11.47px;background:#6abca8"></div>
<div style="left:236.00px;top:370.86px;width:14.17px;height:11.47px;background:#55a591"></div>
<div style="left:249.67px;top:370.86px;width:14.17px;height:11.47px;background:#58a894"></div>
<div style="left:263.33px;top:370.86px;width:13.67px;height:11.47px;background:#58a894"></div>
<div style="left:236.00px;top:381.83px;width:14.17px;height:11.47px;background:#55a591"></div>
<div style="left:249.67px;top:381.83px;width:14.17px;height:11.47px;background:#55a591"></div>
<div style="left:263.33px;top:381.83px;width:13.67px;height:11.47px;background:#55a591"></div>
<div style="left:236.00px;top:392.80px;width:14.17px;height:11.47px;background:#98d6c7"></div>
<div style="left:249.67px;top:392.80px;width:14.17px;height:11.47px;background:#84ccbb"></div>
<div style="left:263.33px;top:392.80px;width:13.67px;height:11.47px;background:#d3f0e8"></div>
<div style="left:236.00px;top:403.77px;width:14.17px;height:11.47px;background:#89cebe"></div>
<div style="left:249.67px;top:403.77px;width:14.17px;height:11.47px;background:#a3dbcd"></div>
<div style="left:263.33px;top:403.77px;width:13.67px;height:11.47px;background:#d3f0e8"></div>
<div style="left:236.00px;top:414.74px;width:14.17px;height:11.47px;background:#98d6c7"></div>
<div style="left:249.67px;top:414.74px;width:14.17px;height:11.47px;background:#c8eee4"></div>
<div style="left:263.33px;top:414.74px;width:13.67px;height:11.47px;background:#92d3c3"></div>
<div style="left:236.00px;top:425.71px;width:14.17px;height:10.97px;background:#7dc8b6"></div>
<div style="left:249.67px;top:425.71px;width:14.17px;height:10.97px;background:#ecf4f1"></div>
<div style="left:263.33px;top:425.71px;width:13.67px;height:10.97px;background:#ecf4f1"></div>
<div style="left:284.00px;top:283.10px;width:14.17px;height:11.47px;background:#e3d29b"></div>
<div style="left:297.67px;top:283.10px;width:14.17px;height:11.47px;background:#d9bf7b"></div>
<div style="left:311.33px;top:283.10px;width:13.67px;height:11.47px;background:#f1ecd4"></div>
<div style="left:284.00px;top:294.07px;width:14.17px;height:11.47px;background:#eee6c2"></div>
<div style="left:297.67px;top:294.07px;width:14.17px;height:11.47px;background:#eee6c2"></div>
<div style="left:311.33px;top:294.07px;width:13.67px;height:11.47px;background:#eee6c2"></div>
<div style="left:284.00px;top:305.04px;width:14.17px;height:11.47px;background:#e6d7a3"></div>
<div style="left:297.67px;top:305.04px;width:14.17px;height:11.47px;background:#e5d5a0"></div>
<div style="left:311.33px;top:305.04px;width:13.67px;height:11.47px;background:#f2eeda"></div>
<div style="left:284.00px;top:316.01px;width:14.17px;height:11.47px;background:#f1ecd4"></div>
<div style="left:297.67px;top:316.01px;width:14.17px;height:11.47px;background:#f2eeda"></div>
<div style="left:311.33px;top:316.01px;width:13.67px;height:11.47px;background:#ede3bc"></div>
<div style="left:284.00px;top:326.98px;width:14.17px;height:11.47px;background:#ebe1b6"></div>
<div style="left:297.67px;top:326.98px;width:14.17px;height:11.47px;background:#f3efe2"></div>
<div style="left:311.33px;top:326.98px;width:13.67px;height:11.47px;background:#f4f2e9"></div>
<div style="left:284.00px;top:337.95px;width:14.17px;height:11.47px;background:#ede3bc"></div>
<div style="left:297.67px;top:337.95px;width:14.17px;height:11.47px;background:#e8dcaa"></div>
<div style="left:311.33px;top:337.95px;width:13.67px;height:11.47px;background:#f3efe2"></div>
<div style="left:284.00px;top:348.92px;width:14.17px;height:11.47px;background:#eee6c2"></div>
<div style="left:297.67px;top:348.92px;width:14.17px;height:11.47px;background:#ebe1b6"></div>
<div style="left:311.33px;top:348.92px;width:13.67px;height:11.47px;background:#f2eedc"></div>
<div style="left:284.00px;top:359.89px;width:14.17px;height:11.47px;background:#f0e8c8"></div>
<div style="left:297.67px;top:359.89px;width:14.17px;height:11.47px;background:#f1ecd4"></div>
<div style="left:311.33px;top:359.89px;width:13.67px;height:11.47px;background:#f3efe2"></div>
<div style="left:284.00px;top:370.86px;width:14.17px;height:11.47px;background:#f0e9cc"></div>
<div style="left:297.67px;top:370.86px;width:14.17px;height:11.47px;background:#f0e9cc"></div>
<div style="left:311.33px;top:370.86px;width:13.67px;height:11.47px;background:#f5f5f4"></div>
<div style="left:284.00px;top:381.83px;width:14.17px;height:11.47px;background:#f3f0e4"></div>
<div style="left:297.67px;top:381.83px;width:14.17px;height:11.47px;background:#f3f0e4"></div>
<div style="left:311.33px;top:381.83px;width:13.67px;height:11.47px;background:#f5f4f1"></div>
<div style="left:284.00px;top:392.80px;width:14.17px;height:11.47px;background:#f0e9cc"></div>
<div style="left:297.67px;top:392.80px;width:14.17px;height:11.47px;background:#e9ddae"></div>
<div style="left:311.33px;top:392.80px;width:13.67px;height:11.47px;background:#f1ecd4"></div>
<div style="left:284.00px;top:403.77px;width:14.17px;height:11.47px;background:#f0e9cc"></div>
<div style="left:297.67px;top:403.77px;width:14.17px;height:11.47px;background:#f0e9cc"></div>
<div style="left:311.33px;top:403.77px;width:13.67px;height:11.47px;background:#e8dcaa"></div>
<div style="left:284.00px;top:414.74px;width:14.17px;height:11.47px;background:#f4f3ef"></div>
<div style="left:297.67px;top:414.74px;width:14.17px;height:11.47px;background:#f3efe2"></div>
<div style="left:311.33px;top:414.74px;width:13.67px;height:11.47px;background:#f2eedc"></div>
<div style="left:284.00px;top:425.71px;width:14.17px;height:10.97px;background:#f0e8c8"></div>
<div style="left:297.67px;top:425.71px;width:14.17px;height:10.97px;background:#f3efe2"></div>
<div style="left:311.33px;top:425.71px;width:13.67px;height:10.97px;background:#c5a055"></div>
<div style="left:519px;top:266.8px;width:68.6px;height:13.9px;background:linear-gradient(to right,#307662 0.0%,#3c8470 4.2%,#489480 8.3%,#55a591 12.5%,#63b4a0 16.7%,#73c3af 20.8%,#8cd0c0 25.0%,#9fd9cb 29.2%,#b3e3d7 33.3%,#c8eee4 37.5%,#daf1eb 41.7%,#e7f3f0 45.8%,#f5f5f4 50.0%,#f3f0e3 54.2%,#f1ecd5 58.3%,#f0e8c8 62.5%,#ebe0b4 66.7%,#e4d49e 70.8%,#dcc382 75.0%,#d3b76d 79.2%,#cba95e 83.3%,#c0964b 87.5%,#b28239 91.7%,#a16a2a 95.8%,#8c5519 100.0%)"></div>
<div style="left:524.50px;top:266.8px;width:1px;height:2px;background:rgba(255,255,255,0.45)"></div>
<div style="left:524.50px;top:278.7px;width:1px;height:2px;background:rgba(255,255,255,0.45)"></div>
<div style="left:538.50px;top:266.8px;width:1px;height:2px;background:rgba(255,255,255,0.45)"></div>
<div style="left:538.50px;top:278.7px;width:1px;height:2px;background:rgba(255,255,255,0.45)"></div>
<div style="left:552.80px;top:266.8px;width:1px;height:2px;background:rgba(255,255,255,0.45)"></div>
<div style="left:552.80px;top:278.7px;width:1px;height:2px;background:rgba(255,255,255,0.45)"></div>
<div style="left:567.10px;top:266.8px;width:1px;height:2px;background:rgba(255,255,255,0.45)"></div>
<div style="left:567.10px;top:278.7px;width:1px;height:2px;background:rgba(255,255,255,0.45)"></div>
<div style="left:581.50px;top:266.8px;width:1px;height:2px;background:rgba(255,255,255,0.45)"></div>
<div style="left:581.50px;top:278.7px;width:1px;height:2px;background:rgba(255,255,255,0.45)"></div>
<div style="left:390.00px;top:333.00px;width:14.83px;height:10.80px;background:#ede3bc"></div>
<div style="left:404.33px;top:333.00px;width:14.83px;height:10.80px;background:#e8dcaa"></div>
<div style="left:418.67px;top:333.00px;width:14.33px;height:10.80px;background:#e3d29b"></div>
<div style="left:390.00px;top:343.30px;width:14.83px;height:10.80px;background:#dec88b"></div>
<div style="left:404.33px;top:343.30px;width:14.83px;height:10.80px;background:#d4b86e"></div>
<div style="left:418.67px;top:343.30px;width:14.33px;height:10.80px;background:#dec88b"></div>
<div style="left:390.00px;top:353.60px;width:14.83px;height:10.80px;background:#f2eeda"></div>
<div style="left:404.33px;top:353.60px;width:14.83px;height:10.80px;background:#e1cd94"></div>
<div style="left:418.67px;top:353.60px;width:14.33px;height:10.80px;background:#f0e9cc"></div>
<div style="left:390.00px;top:363.90px;width:14.83px;height:10.80px;background:#f0e8c8"></div>
<div style="left:404.33px;top:363.90px;width:14.83px;height:10.80px;background:#eee6c2"></div>
<div style="left:418.67px;top:363.90px;width:14.33px;height:10.80px;background:#af7d36"></div>
<div style="left:390.00px;top:374.20px;width:14.83px;height:10.80px;background:#dec88b"></div>
<div style="left:404.33px;top:374.20px;width:14.83px;height:10.80px;background:#925b1e"></div>
<div style="left:418.67px;top:374.20px;width:14.33px;height:10.80px;background:#e3d29b"></div>
<div style="left:390.00px;top:384.50px;width:14.83px;height:10.30px;background:#f4f2e9"></div>
<div style="left:404.33px;top:384.50px;width:14.83px;height:10.30px;background:#ccac61"></div>
<div style="left:418.67px;top:384.50px;width:14.33px;height:10.30px;background:#dcc382"></div>
<div style="left:440.20px;top:333.00px;width:14.83px;height:10.80px;background:#e8dcaa"></div>
<div style="left:454.53px;top:333.00px;width:14.83px;height:10.80px;background:#e0cb90"></div>
<div style="left:468.87px;top:333.00px;width:14.33px;height:10.80px;background:#e1cd94"></div>
<div style="left:440.20px;top:343.30px;width:14.83px;height:10.80px;background:#f0e8c8"></div>
<div style="left:454.53px;top:343.30px;width:14.83px;height:10.80px;background:#f0e9cc"></div>
<div style="left:468.87px;top:343.30px;width:14.33px;height:10.80px;background:#c39c51"></div>
<div style="left:440.20px;top:353.60px;width:14.83px;height:10.80px;background:#f3f0e4"></div>
<div style="left:454.53px;top:353.60px;width:14.83px;height:10.80px;background:#e1cd94"></div>
<div style="left:468.87px;top:353.60px;width:14.33px;height:10.80px;background:#d7bc75"></div>
<div style="left:440.20px;top:363.90px;width:14.83px;height:10.80px;background:#f1ecd4"></div>
<div style="left:454.53px;top:363.90px;width:14.83px;height:10.80px;background:#f1ecd4"></div>
<div style="left:468.87px;top:363.90px;width:14.33px;height:10.80px;background:#b88a40"></div>
<div style="left:440.20px;top:374.20px;width:14.83px;height:10.80px;background:#f4f2e9"></div>
<div style="left:454.53px;top:374.20px;width:14.83px;height:10.80px;background:#f0e9cc"></div>
<div style="left:468.87px;top:374.20px;width:14.33px;height:10.80px;background:#f2eeda"></div>
<div style="left:440.20px;top:384.50px;width:14.83px;height:10.30px;background:#f0e8c8"></div>
<div style="left:454.53px;top:384.50px;width:14.83px;height:10.30px;background:#d4b86e"></div>
<div style="left:468.87px;top:384.50px;width:14.33px;height:10.30px;background:#ede3bc"></div>
<div style="left:490.30px;top:333.00px;width:14.83px;height:10.80px;background:#c2ebe0"></div>
<div style="left:504.63px;top:333.00px;width:14.83px;height:10.80px;background:#e8f3f0"></div>
<div style="left:518.97px;top:333.00px;width:14.33px;height:10.80px;background:#f5f4f2"></div>
<div style="left:490.30px;top:343.30px;width:14.83px;height:10.80px;background:#def2ec"></div>
<div style="left:504.63px;top:343.30px;width:14.83px;height:10.80px;background:#d5f0e9"></div>
<div style="left:518.97px;top:343.30px;width:14.33px;height:10.80px;background:#f4f2e9"></div>
<div style="left:490.30px;top:353.60px;width:14.83px;height:10.80px;background:#ceefe6"></div>
<div style="left:504.63px;top:353.60px;width:14.83px;height:10.80px;background:#dcf2eb"></div>
<div style="left:518.97px;top:353.60px;width:14.33px;height:10.80px;background:#dcf2eb"></div>
<div style="left:490.30px;top:363.90px;width:14.83px;height:10.80px;background:#afe1d4"></div>
<div style="left:504.63px;top:363.90px;width:14.83px;height:10.80px;background:#def2ec"></div>
<div style="left:518.97px;top:363.90px;width:14.33px;height:10.80px;background:#d3f0e8"></div>
<div style="left:490.30px;top:374.20px;width:14.83px;height:10.80px;background:#e5f3ef"></div>
<div style="left:504.63px;top:374.20px;width:14.83px;height:10.80px;background:#d3f0e8"></div>
<div style="left:518.97px;top:374.20px;width:14.33px;height:10.80px;background:#f5f4f2"></div>
<div style="left:490.30px;top:384.50px;width:14.83px;height:10.30px;background:#ade0d3"></div>
<div style="left:504.63px;top:384.50px;width:14.83px;height:10.30px;background:#f4f2eb"></div>
<div style="left:518.97px;top:384.50px;width:14.33px;height:10.30px;background:#89cebe"></div>
<div style="left:540.30px;top:333.00px;width:14.83px;height:10.80px;background:#4d9b87"></div>
<div style="left:554.63px;top:333.00px;width:14.83px;height:10.80px;background:#a1dacc"></div>
<div style="left:568.97px;top:333.00px;width:14.33px;height:10.80px;background:#92d3c3"></div>
<div style="left:540.30px;top:343.30px;width:14.83px;height:10.80px;background:#5dae9a"></div>
<div style="left:554.63px;top:343.30px;width:14.83px;height:10.80px;background:#a1dacc"></div>
<div style="left:568.97px;top:343.30px;width:14.33px;height:10.80px;background:#92d3c3"></div>
<div style="left:540.30px;top:353.60px;width:14.83px;height:10.80px;background:#5dae9a"></div>
<div style="left:554.63px;top:353.60px;width:14.83px;height:10.80px;background:#b2e2d6"></div>
<div style="left:568.97px;top:353.60px;width:14.33px;height:10.80px;background:#76c4b1"></div>
<div style="left:540.30px;top:363.90px;width:14.83px;height:10.80px;background:#d3f0e8"></div>
<div style="left:554.63px;top:363.90px;width:14.83px;height:10.80px;background:#55a591"></div>
<div style="left:568.97px;top:363.90px;width:14.33px;height:10.80px;background:#98d6c7"></div>
<div style="left:540.30px;top:374.20px;width:14.83px;height:10.80px;background:#6abca8"></div>
<div style="left:554.63px;top:374.20px;width:14.83px;height:10.80px;background:#6cbeaa"></div>
<div style="left:568.97px;top:374.20px;width:14.33px;height:10.80px;background:#9ad7c8"></div>
<div style="left:540.30px;top:384.50px;width:14.83px;height:10.30px;background:#5bab97"></div>
<div style="left:554.63px;top:384.50px;width:14.83px;height:10.30px;background:#f1f4f3"></div>
<div style="left:568.97px;top:384.50px;width:14.33px;height:10.30px;background:#def2ec"></div>
<div style="left:590.80px;top:333.00px;width:14.83px;height:10.80px;background:#f5f4f1"></div>
<div style="left:605.13px;top:333.00px;width:14.83px;height:10.80px;background:#f1ecd4"></div>
<div style="left:619.47px;top:333.00px;width:14.33px;height:10.80px;background:#f4f3ed"></div>
<div style="left:590.80px;top:343.30px;width:14.83px;height:10.80px;background:#e6f3ef"></div>
<div style="left:605.13px;top:343.30px;width:14.83px;height:10.80px;background:#ecf4f1"></div>
<div style="left:619.47px;top:343.30px;width:14.33px;height:10.80px;background:#e6f3ef"></div>
<div style="left:590.80px;top:353.60px;width:14.83px;height:10.80px;background:#e2cf97"></div>
<div style="left:605.13px;top:353.60px;width:14.83px;height:10.80px;background:#f3efe2"></div>
<div style="left:619.47px;top:353.60px;width:14.33px;height:10.80px;background:#f1ecd4"></div>
<div style="left:590.80px;top:363.90px;width:14.83px;height:10.80px;background:#f0e9cc"></div>
<div style="left:605.13px;top:363.90px;width:14.83px;height:10.80px;background:#e8f3f0"></div>
<div style="left:619.47px;top:363.90px;width:14.33px;height:10.80px;background:#f4f2eb"></div>
<div style="left:590.80px;top:374.20px;width:14.83px;height:10.80px;background:#f4f2eb"></div>
<div style="left:605.13px;top:374.20px;width:14.83px;height:10.80px;background:#e8f3f0"></div>
<div style="left:619.47px;top:374.20px;width:14.33px;height:10.80px;background:#c8eee4"></div>
<div style="left:590.80px;top:384.50px;width:14.83px;height:10.30px;background:#e6f3ef"></div>
<div style="left:605.13px;top:384.50px;width:14.83px;height:10.30px;background:#d8f1ea"></div>
<div style="left:619.47px;top:384.50px;width:14.33px;height:10.30px;background:#def2ec"></div>
<div style="left:640.90px;top:333.00px;width:14.83px;height:10.80px;background:#e6f3ef"></div>
<div style="left:655.23px;top:333.00px;width:14.83px;height:10.80px;background:#f5f4f2"></div>
<div style="left:669.57px;top:333.00px;width:14.33px;height:10.80px;background:#7ac6b4"></div>
<div style="left:640.90px;top:343.30px;width:14.83px;height:10.80px;background:#f3f5f3"></div>
<div style="left:655.23px;top:343.30px;width:14.83px;height:10.80px;background:#e8f3f0"></div>
<div style="left:669.57px;top:343.30px;width:14.33px;height:10.80px;background:#a3dbcd"></div>
<div style="left:640.90px;top:353.60px;width:14.83px;height:10.80px;background:#f0e9cc"></div>
<div style="left:655.23px;top:353.60px;width:14.83px;height:10.80px;background:#f4f2e9"></div>
<div style="left:669.57px;top:353.60px;width:14.33px;height:10.80px;background:#6ec0ac"></div>
<div style="left:640.90px;top:363.90px;width:14.83px;height:10.80px;background:#f5f5f4"></div>
<div style="left:655.23px;top:363.90px;width:14.83px;height:10.80px;background:#def2ec"></div>
<div style="left:669.57px;top:363.90px;width:14.33px;height:10.80px;background:#d8f1ea"></div>
<div style="left:640.90px;top:374.20px;width:14.83px;height:10.80px;background:#f0e9cc"></div>
<div style="left:655.23px;top:374.20px;width:14.83px;height:10.80px;background:#f5f4f2"></div>
<div style="left:669.57px;top:374.20px;width:14.33px;height:10.80px;background:#d8f1ea"></div>
<div style="left:640.90px;top:384.50px;width:14.83px;height:10.30px;background:#d8f1ea"></div>
<div style="left:655.23px;top:384.50px;width:14.83px;height:10.30px;background:#dec88b"></div>
<div style="left:669.57px;top:384.50px;width:14.33px;height:10.30px;background:#c2ebe0"></div>
<div style="left:313.3px;top:482.1px;width:86.4px;height:17.5px;background:linear-gradient(to right,#307662 0.0%,#3c8470 4.2%,#489480 8.3%,#55a591 12.5%,#63b4a0 16.7%,#73c3af 20.8%,#8cd0c0 25.0%,#9fd9cb 29.2%,#b3e3d7 33.3%,#c8eee4 37.5%,#daf1eb 41.7%,#e7f3f0 45.8%,#f5f5f4 50.0%,#f3f0e3 54.2%,#f1ecd5 58.3%,#f0e8c8 62.5%,#ebe0b4 66.7%,#e4d49e 70.8%,#dcc382 75.0%,#d3b76d 79.2%,#cba95e 83.3%,#c0964b 87.5%,#b28239 91.7%,#a16a2a 95.8%,#8c5519 100.0%)"></div>
<div style="left:313.70px;top:482.1px;width:1px;height:2px;background:rgba(255,255,255,0.45)"></div>
<div style="left:313.70px;top:497.6px;width:1px;height:2px;background:rgba(255,255,255,0.45)"></div>
<div style="left:335.00px;top:482.1px;width:1px;height:2px;background:rgba(255,255,255,0.45)"></div>
<div style="left:335.00px;top:497.6px;width:1px;height:2px;background:rgba(255,255,255,0.45)"></div>
<div style="left:356.00px;top:482.1px;width:1px;height:2px;background:rgba(255,255,255,0.45)"></div>
<div style="left:356.00px;top:497.6px;width:1px;height:2px;background:rgba(255,255,255,0.45)"></div>
<div style="left:376.80px;top:482.1px;width:1px;height:2px;background:rgba(255,255,255,0.45)"></div>
<div style="left:376.80px;top:497.6px;width:1px;height:2px;background:rgba(255,255,255,0.45)"></div>
<div style="left:397.90px;top:482.1px;width:1px;height:2px;background:rgba(255,255,255,0.45)"></div>
<div style="left:397.90px;top:497.6px;width:1px;height:2px;background:rgba(255,255,255,0.45)"></div>
<div style="left:154.70px;top:565.20px;width:18.17px;height:13.10px;background:#f5f4f2"></div>
<div style="left:172.37px;top:565.20px;width:18.17px;height:13.10px;background:#f2efde"></div>
<div style="left:190.03px;top:565.20px;width:17.67px;height:13.10px;background:#f1eace"></div>
<div style="left:154.70px;top:577.80px;width:18.17px;height:13.10px;background:#f3f1e7"></div>
<div style="left:172.37px;top:577.80px;width:18.17px;height:13.10px;background:#f4f2eb"></div>
<div style="left:190.03px;top:577.80px;width:17.67px;height:13.10px;background:#f5f5f4"></div>
<div style="left:154.70px;top:590.40px;width:18.17px;height:13.10px;background:#ceae63"></div>
<div style="left:172.37px;top:590.40px;width:18.17px;height:13.10px;background:#ceae63"></div>
<div style="left:190.03px;top:590.40px;width:17.67px;height:13.10px;background:#986223"></div>
<div style="left:154.70px;top:603.00px;width:18.17px;height:13.10px;background:#e3d29b"></div>
<div style="left:172.37px;top:603.00px;width:18.17px;height:13.10px;background:#d7bc75"></div>
<div style="left:190.03px;top:603.00px;width:17.67px;height:13.10px;background:#efe7c6"></div>
<div style="left:154.70px;top:615.60px;width:18.17px;height:12.60px;background:#7ac6b4"></div>
<div style="left:172.37px;top:615.60px;width:18.17px;height:12.60px;background:#6ec0ac"></div>
<div style="left:190.03px;top:615.60px;width:17.67px;height:12.60px;background:#76c4b1"></div>
<div style="left:216.00px;top:565.20px;width:18.17px;height:13.10px;background:#9ad7c8"></div>
<div style="left:233.67px;top:565.20px;width:18.17px;height:13.10px;background:#6abca8"></div>
<div style="left:251.33px;top:565.20px;width:17.67px;height:13.10px;background:#a3dbcd"></div>
<div style="left:216.00px;top:577.80px;width:18.17px;height:13.10px;background:#59aa96"></div>
<div style="left:233.67px;top:577.80px;width:18.17px;height:13.10px;background:#6ec0ac"></div>
<div style="left:251.33px;top:577.80px;width:17.67px;height:13.10px;background:#8cd0c0"></div>
<div style="left:216.00px;top:590.40px;width:18.17px;height:13.10px;background:#bce8dc"></div>
<div style="left:233.67px;top:590.40px;width:18.17px;height:13.10px;background:#a9ded1"></div>
<div style="left:251.33px;top:590.40px;width:17.67px;height:13.10px;background:#def2ec"></div>
<div style="left:216.00px;top:603.00px;width:18.17px;height:13.10px;background:#e1cd94"></div>
<div style="left:233.67px;top:603.00px;width:18.17px;height:13.10px;background:#f3f5f3"></div>
<div style="left:251.33px;top:603.00px;width:17.67px;height:13.10px;background:#8c5519"></div>
<div style="left:216.00px;top:615.60px;width:18.17px;height:12.60px;background:#ceefe6"></div>
<div style="left:233.67px;top:615.60px;width:18.17px;height:12.60px;background:#a3dbcd"></div>
<div style="left:251.33px;top:615.60px;width:17.67px;height:12.60px;background:#eef4f2"></div>
<div style="left:278.20px;top:565.20px;width:18.17px;height:13.10px;background:#f3f1e7"></div>
<div style="left:295.87px;top:565.20px;width:18.17px;height:13.10px;background:#aa7531"></div>
<div style="left:313.53px;top:565.20px;width:17.67px;height:13.10px;background:#e8dcaa"></div>
<div style="left:278.20px;top:577.80px;width:18.17px;height:13.10px;background:#dec88b"></div>
<div style="left:295.87px;top:577.80px;width:18.17px;height:13.10px;background:#dec88b"></div>
<div style="left:313.53px;top:577.80px;width:17.67px;height:13.10px;background:#d9bf7b"></div>
<div style="left:278.20px;top:590.40px;width:18.17px;height:13.10px;background:#6ec0ac"></div>
<div style="left:295.87px;top:590.40px;width:18.17px;height:13.10px;background:#a9ded1"></div>
<div style="left:313.53px;top:590.40px;width:17.67px;height:13.10px;background:#d3f0e8"></div>
<div style="left:278.20px;top:603.00px;width:18.17px;height:13.10px;background:#98d6c7"></div>
<div style="left:295.87px;top:603.00px;width:18.17px;height:13.10px;background:#e1f2ed"></div>
<div style="left:313.53px;top:603.00px;width:17.67px;height:13.10px;background:#2c715d"></div>
<div style="left:278.20px;top:615.60px;width:18.17px;height:12.60px;background:#dec88b"></div>
<div style="left:295.87px;top:615.60px;width:18.17px;height:12.60px;background:#a7712f"></div>
<div style="left:313.53px;top:615.60px;width:17.67px;height:12.60px;background:#d4b86e"></div>
<div style="left:340.30px;top:565.20px;width:18.17px;height:13.10px;background:#a56e2d"></div>
<div style="left:357.97px;top:565.20px;width:18.17px;height:13.10px;background:#f3f1e7"></div>
<div style="left:375.63px;top:565.20px;width:17.67px;height:13.10px;background:#caa85d"></div>
<div style="left:340.30px;top:577.80px;width:18.17px;height:13.10px;background:#b88a40"></div>
<div style="left:357.97px;top:577.80px;width:18.17px;height:13.10px;background:#dec88b"></div>
<div style="left:375.63px;top:577.80px;width:17.67px;height:13.10px;background:#ceae63"></div>
<div style="left:340.30px;top:590.40px;width:18.17px;height:13.10px;background:#e1cd94"></div>
<div style="left:357.97px;top:590.40px;width:18.17px;height:13.10px;background:#d4b86e"></div>
<div style="left:375.63px;top:590.40px;width:17.67px;height:13.10px;background:#dec88b"></div>
<div style="left:340.30px;top:603.00px;width:18.17px;height:13.10px;background:#f1f4f3"></div>
<div style="left:357.97px;top:603.00px;width:18.17px;height:13.10px;background:#a3dbcd"></div>
<div style="left:375.63px;top:603.00px;width:17.67px;height:13.10px;background:#a3dbcd"></div>
<div style="left:340.30px;top:615.60px;width:18.17px;height:12.60px;background:#f0e9cc"></div>
<div style="left:357.97px;top:615.60px;width:18.17px;height:12.60px;background:#bce8dc"></div>
<div style="left:375.63px;top:615.60px;width:17.67px;height:12.60px;background:#e1f2ed"></div>
<div style="left:402.10px;top:565.20px;width:18.17px;height:13.10px;background:#a3dbcd"></div>
<div style="left:419.77px;top:565.20px;width:18.17px;height:13.10px;background:#92d3c3"></div>
<div style="left:437.43px;top:565.20px;width:17.67px;height:13.10px;background:#76c4b1"></div>
<div style="left:402.10px;top:577.80px;width:18.17px;height:13.10px;background:#8cd0c0"></div>
<div style="left:419.77px;top:577.80px;width:18.17px;height:13.10px;background:#8cd0c0"></div>
<div style="left:437.43px;top:577.80px;width:17.67px;height:13.10px;background:#bce8dc"></div>
<div style="left:402.10px;top:590.40px;width:18.17px;height:13.10px;background:#def2ec"></div>
<div style="left:419.77px;top:590.40px;width:18.17px;height:13.10px;background:#ceefe6"></div>
<div style="left:437.43px;top:590.40px;width:17.67px;height:13.10px;background:#92d3c3"></div>
<div style="left:402.10px;top:603.00px;width:18.17px;height:13.10px;background:#f3f5f3"></div>
<div style="left:419.77px;top:603.00px;width:18.17px;height:13.10px;background:#f1ecd4"></div>
<div style="left:437.43px;top:603.00px;width:17.67px;height:13.10px;background:#7ac6b4"></div>
<div style="left:402.10px;top:615.60px;width:18.17px;height:12.60px;background:#dcf2eb"></div>
<div style="left:419.77px;top:615.60px;width:18.17px;height:12.60px;background:#dec88b"></div>
<div style="left:437.43px;top:615.60px;width:17.67px;height:12.60px;background:#d4b86e"></div>
<div style="left:464.00px;top:565.20px;width:18.17px;height:13.10px;background:#e5f3ef"></div>
<div style="left:481.67px;top:565.20px;width:18.17px;height:13.10px;background:#e6f3ef"></div>
<div style="left:499.33px;top:565.20px;width:17.67px;height:13.10px;background:#f5f5f4"></div>
<div style="left:464.00px;top:577.80px;width:18.17px;height:13.10px;background:#e1f2ed"></div>
<div style="left:481.67px;top:577.80px;width:18.17px;height:13.10px;background:#f5f5f4"></div>
<div style="left:499.33px;top:577.80px;width:17.67px;height:13.10px;background:#e5f3ef"></div>
<div style="left:464.00px;top:590.40px;width:18.17px;height:13.10px;background:#f4f2eb"></div>
<div style="left:481.67px;top:590.40px;width:18.17px;height:13.10px;background:#dcf2eb"></div>
<div style="left:499.33px;top:590.40px;width:17.67px;height:13.10px;background:#e8f3f0"></div>
<div style="left:464.00px;top:603.00px;width:18.17px;height:13.10px;background:#e8f3f0"></div>
<div style="left:481.67px;top:603.00px;width:18.17px;height:13.10px;background:#e5f3ef"></div>
<div style="left:499.33px;top:603.00px;width:17.67px;height:13.10px;background:#e8dcaa"></div>
<div style="left:464.00px;top:615.60px;width:18.17px;height:12.60px;background:#e8f3f0"></div>
<div style="left:481.67px;top:615.60px;width:18.17px;height:12.60px;background:#ebe1b6"></div>
<div style="left:499.33px;top:615.60px;width:17.67px;height:12.60px;background:#def2ec"></div>
<svg style="left:0;top:0;position:absolute" width="685" height="630"><path d="M112.7 562.2 L108.6 563.3 L108.6 589.0 L112.7 590.3 M108.6 576.6 L104.8 576.6" stroke="#1a1a1a" stroke-width="1.05" fill="none" stroke-linejoin="round"/></svg>
<div style="left:453.1px;top:328.5px;width:1.2px;height:1.2px;background:#8a8a8a;border-radius:50%"></div>
<div style="left:456.8px;top:328.5px;width:1.2px;height:1.2px;background:#8a8a8a;border-radius:50%"></div>
<div style="left:603.0px;top:328.5px;width:1.2px;height:1.2px;background:#8a8a8a;border-radius:50%"></div>
<div style="left:606.8px;top:328.5px;width:1.2px;height:1.2px;background:#8a8a8a;border-radius:50%"></div>
<div class="t" style="top:-1.80px;font-size:15.5px;line-height:15.5px;font-weight:700;color:#000;left:21.70px;">A</div>
<div class="t" style="top:17.40px;font-size:16px;line-height:16px;font-weight:400;color:#202020;left:71.70px;">N&lt;H&lt;O</div>
<div class="t" style="top:36.20px;font-size:16px;line-height:16px;font-weight:400;color:#202020;left:71.70px;">N<span style="font-size:0.86em">&#8776;</span>H&lt;O</div>
<div class="t" style="top:25.50px;font-size:8.7px;line-height:8.7px;font-weight:400;color:#202020;left:138.20px;">z-score</div>
<div class="t" style="top:34.60px;font-size:7.5px;line-height:7.5px;font-weight:400;color:#202020;left:185.80px;">-1</div>
<div class="t" style="top:34.60px;font-size:7.5px;line-height:7.5px;font-weight:400;color:#202020;left:204.00px;">0</div>
<div class="t" style="top:34.60px;font-size:7.5px;line-height:7.5px;font-weight:400;color:#202020;left:220.70px;">1</div>
<div class="t" style="top:54.40px;font-size:11.6px;line-height:11.6px;font-weight:700;color:#335b86;transform:scaleY(1.08);transform-origin:0 5.86px;left:58.60px;">WT</div>
<div class="t" style="top:68.10px;font-size:11.6px;line-height:11.6px;font-weight:700;color:#335b86;transform:scaleY(1.08);transform-origin:0 5.86px;left:62.70px;">N</div>
<div class="t" style="top:54.40px;font-size:11.6px;line-height:11.6px;font-weight:700;color:#335b86;transform:scaleY(1.08);transform-origin:0 5.86px;left:107.30px;">WT</div>
<div class="t" style="top:68.10px;font-size:11.6px;line-height:11.6px;font-weight:700;color:#335b86;transform:scaleY(1.08);transform-origin:0 5.86px;left:110.50px;">H</div>
<div class="t" style="top:54.40px;font-size:11.6px;line-height:11.6px;font-weight:700;color:#335b86;transform:scaleY(1.08);transform-origin:0 5.86px;left:154.50px;">WT</div>
<div class="t" style="top:68.10px;font-size:11.6px;line-height:11.6px;font-weight:700;color:#335b86;transform:scaleY(1.08);transform-origin:0 5.86px;left:158.40px;">O</div>
<div class="t" style="top:56.15px;font-size:10.6px;line-height:10.6px;font-weight:700;color:#335b86;transform:scaleY(1.08);transform-origin:0 5.35px;left:190.00px;">TP53<sup>KD</sup></div>
<div class="t" style="top:68.10px;font-size:11.6px;line-height:11.6px;font-weight:700;color:#335b86;transform:scaleY(1.08);transform-origin:0 5.86px;left:202.70px;">N</div>
<div class="t" style="top:56.15px;font-size:10.6px;line-height:10.6px;font-weight:700;color:#335b86;transform:scaleY(1.08);transform-origin:0 5.35px;left:235.20px;">TP53<sup>KD</sup></div>
<div class="t" style="top:68.10px;font-size:11.6px;line-height:11.6px;font-weight:700;color:#335b86;transform:scaleY(1.08);transform-origin:0 5.86px;left:254.70px;">H</div>
<div class="t" style="top:56.15px;font-size:10.6px;line-height:10.6px;font-weight:700;color:#335b86;transform:scaleY(1.08);transform-origin:0 5.35px;left:283.00px;">TP53<sup>KD</sup></div>
<div class="t" style="top:68.10px;font-size:11.6px;line-height:11.6px;font-weight:700;color:#335b86;transform:scaleY(1.08);transform-origin:0 5.86px;left:300.00px;">O</div>
<div class="t" style="top:86.30px;font-size:7.15px;line-height:7.15px;font-weight:400;color:#2b2b2b;left:17.30px;">SLC4A2</div>
<div class="t" style="top:96.60px;font-size:7.15px;line-height:7.15px;font-weight:400;color:#2b2b2b;left:5.30px;">ARHGAP39</div>
<div class="t" style="top:106.90px;font-size:7.15px;line-height:7.15px;font-weight:400;color:#2b2b2b;left:18.30px;">DMAP1</div>
<div class="t" style="top:117.20px;font-size:7.15px;line-height:7.15px;font-weight:400;color:#2b2b2b;left:23.30px;">ITFG2</div>
<div class="t" style="top:127.50px;font-size:7.15px;line-height:7.15px;font-weight:400;color:#2b2b2b;left:17.30px;">ZNF865</div>
<div class="t" style="top:137.80px;font-size:7.15px;line-height:7.15px;font-weight:400;color:#2b2b2b;left:16.30px;">TBC1D8</div>
<div class="t" style="top:-0.80px;font-size:15.5px;line-height:15.5px;font-weight:700;color:#000;left:360.80px;">B</div>
<div class="t" style="top:36.60px;font-size:15.7px;line-height:15.7px;font-weight:400;color:#202020;left:420.80px;">O&lt;H&lt;N</div>
<div class="t" style="top:38.10px;font-size:8.7px;line-height:8.7px;font-weight:400;color:#202020;left:488.00px;">z-score</div>
<div class="t" style="top:46.80px;font-size:7.5px;line-height:7.5px;font-weight:400;color:#202020;left:524.00px;">-2</div>
<div class="t" style="top:46.80px;font-size:7.5px;line-height:7.5px;font-weight:400;color:#202020;left:538.50px;">-1</div>
<div class="t" style="top:46.80px;font-size:7.5px;line-height:7.5px;font-weight:400;color:#202020;left:553.50px;">0</div>
<div class="t" style="top:46.80px;font-size:7.5px;line-height:7.5px;font-weight:400;color:#202020;left:567.00px;">1</div>
<div class="t" style="top:46.80px;font-size:7.5px;line-height:7.5px;font-weight:400;color:#202020;left:581.50px;">2</div>
<div class="t" style="top:61.80px;font-size:11.6px;line-height:11.6px;font-weight:400;color:#335b86;transform:scaleY(1.08);transform-origin:0 5.86px;left:408.60px;">WT</div>
<div class="t" style="top:77.80px;font-size:11.6px;line-height:11.6px;font-weight:400;color:#335b86;transform:scaleY(1.08);transform-origin:0 5.86px;left:409.10px;">N</div>
<div class="t" style="top:61.80px;font-size:11.6px;line-height:11.6px;font-weight:400;color:#335b86;transform:scaleY(1.08);transform-origin:0 5.86px;left:456.80px;">WT</div>
<div class="t" style="top:77.80px;font-size:11.6px;line-height:11.6px;font-weight:400;color:#335b86;transform:scaleY(1.08);transform-origin:0 5.86px;left:456.90px;">H</div>
<div class="t" style="top:61.80px;font-size:11.6px;line-height:11.6px;font-weight:400;color:#335b86;transform:scaleY(1.08);transform-origin:0 5.86px;left:504.30px;">WT</div>
<div class="t" style="top:77.80px;font-size:11.6px;line-height:11.6px;font-weight:400;color:#335b86;transform:scaleY(1.08);transform-origin:0 5.86px;left:505.60px;">O</div>
<div class="t" style="top:63.65px;font-size:11.0px;line-height:11.0px;font-weight:400;color:#335b86;transform:scaleY(1.08);transform-origin:0 5.55px;left:540.20px;">TP53<sup>KD</sup></div>
<div class="t" style="top:77.80px;font-size:11.6px;line-height:11.6px;font-weight:400;color:#335b86;transform:scaleY(1.08);transform-origin:0 5.86px;left:549.00px;">N</div>
<div class="t" style="top:63.65px;font-size:11.0px;line-height:11.0px;font-weight:400;color:#335b86;transform:scaleY(1.08);transform-origin:0 5.55px;left:585.00px;">TP53<sup>KD</sup></div>
<div class="t" style="top:77.80px;font-size:11.6px;line-height:11.6px;font-weight:400;color:#335b86;transform:scaleY(1.08);transform-origin:0 5.86px;left:601.40px;">H</div>
<div class="t" style="top:63.65px;font-size:11.0px;line-height:11.0px;font-weight:400;color:#335b86;transform:scaleY(1.08);transform-origin:0 5.55px;left:632.30px;">TP53<sup>KD</sup></div>
<div class="t" style="top:77.80px;font-size:11.6px;line-height:11.6px;font-weight:400;color:#335b86;transform:scaleY(1.08);transform-origin:0 5.86px;left:647.00px;">O</div>
<div class="t" style="top:98.30px;font-size:7.15px;line-height:7.15px;font-weight:400;color:#2b2b2b;left:359.90px;">LRRCC1</div>
<div class="t" style="top:108.05px;font-size:7.15px;line-height:7.15px;font-weight:400;color:#2b2b2b;left:363.90px;">HACD3</div>
<div class="t" style="top:117.80px;font-size:7.15px;line-height:7.15px;font-weight:400;color:#2b2b2b;left:364.90px;">THAP6</div>
<div class="t" style="top:127.55px;font-size:7.15px;line-height:7.15px;font-weight:400;color:#2b2b2b;left:364.90px;">FKBP7</div>
<div class="t" style="top:199.90px;font-size:15.5px;line-height:15.5px;font-weight:700;color:#000;left:28.80px;">C</div>
<div class="t" style="top:222.10px;font-size:15.7px;line-height:15.7px;font-weight:400;color:#202020;left:72.00px;">H&lt;N&lt;O</div>
<div class="t" style="top:225.90px;font-size:8.7px;line-height:8.7px;font-weight:400;color:#202020;left:132.90px;">z-score</div>
<div class="t" style="top:234.40px;font-size:7.5px;line-height:7.5px;font-weight:400;color:#202020;left:178.30px;">-1</div>
<div class="t" style="top:234.40px;font-size:7.5px;line-height:7.5px;font-weight:400;color:#202020;left:198.50px;">0</div>
<div class="t" style="top:234.40px;font-size:7.5px;line-height:7.5px;font-weight:400;color:#202020;left:217.20px;">1</div>
<div class="t" style="top:253.30px;font-size:11.6px;line-height:11.6px;font-weight:700;color:#335b86;transform:scaleY(1.08);transform-origin:0 5.86px;left:55.30px;">WT</div>
<div class="t" style="top:267.40px;font-size:11.6px;line-height:11.6px;font-weight:700;color:#335b86;transform:scaleY(1.08);transform-origin:0 5.86px;left:58.20px;">N</div>
<div class="t" style="top:253.30px;font-size:11.6px;line-height:11.6px;font-weight:700;color:#335b86;transform:scaleY(1.08);transform-origin:0 5.86px;left:103.50px;">WT</div>
<div class="t" style="top:267.40px;font-size:11.6px;line-height:11.6px;font-weight:700;color:#335b86;transform:scaleY(1.08);transform-origin:0 5.86px;left:105.70px;">H</div>
<div class="t" style="top:253.30px;font-size:11.6px;line-height:11.6px;font-weight:700;color:#335b86;transform:scaleY(1.08);transform-origin:0 5.86px;left:151.00px;">WT</div>
<div class="t" style="top:267.40px;font-size:11.6px;line-height:11.6px;font-weight:700;color:#335b86;transform:scaleY(1.08);transform-origin:0 5.86px;left:153.90px;">O</div>
<div class="t" style="top:255.05px;font-size:10.6px;line-height:10.6px;font-weight:700;color:#335b86;transform:scaleY(1.08);transform-origin:0 5.35px;left:186.50px;">TP53<sup>KD</sup></div>
<div class="t" style="top:267.40px;font-size:11.6px;line-height:11.6px;font-weight:700;color:#335b86;transform:scaleY(1.08);transform-origin:0 5.86px;left:198.20px;">N</div>
<div class="t" style="top:255.05px;font-size:10.6px;line-height:10.6px;font-weight:700;color:#335b86;transform:scaleY(1.08);transform-origin:0 5.35px;left:231.40px;">TP53<sup>KD</sup></div>
<div class="t" style="top:267.40px;font-size:11.6px;line-height:11.6px;font-weight:700;color:#335b86;transform:scaleY(1.08);transform-origin:0 5.86px;left:250.00px;">H</div>
<div class="t" style="top:255.05px;font-size:10.6px;line-height:10.6px;font-weight:700;color:#335b86;transform:scaleY(1.08);transform-origin:0 5.35px;left:279.70px;">TP53<sup>KD</sup></div>
<div class="t" style="top:267.40px;font-size:11.6px;line-height:11.6px;font-weight:700;color:#335b86;transform:scaleY(1.08);transform-origin:0 5.86px;left:295.20px;">O</div>
<div class="t" style="top:286.20px;font-size:7.15px;line-height:7.15px;font-weight:400;color:#2b2b2b;left:12.10px;">PMAIP1</div>
<div class="t" style="top:297.17px;font-size:7.15px;line-height:7.15px;font-weight:400;color:#2b2b2b;left:12.10px;">NFE2L1</div>
<div class="t" style="top:308.14px;font-size:7.15px;line-height:7.15px;font-weight:400;color:#2b2b2b;left:18.10px;">TGIF1</div>
<div class="t" style="top:319.11px;font-size:7.15px;line-height:7.15px;font-weight:400;color:#2b2b2b;left:12.10px;">TSPYL2</div>
<div class="t" style="top:330.08px;font-size:7.15px;line-height:7.15px;font-weight:400;color:#2b2b2b;left:5.10px;">ARFGAP2</div>
<div class="t" style="top:341.05px;font-size:7.15px;line-height:7.15px;font-weight:400;color:#2b2b2b;left:16.10px;">EPAS1</div>
<div class="t" style="top:352.02px;font-size:7.15px;line-height:7.15px;font-weight:400;color:#2b2b2b;left:1.10px;">MAP1LC3B</div>
<div class="t" style="top:362.99px;font-size:7.15px;line-height:7.15px;font-weight:400;color:#2b2b2b;left:14.10px;">ERO1B</div>
<div class="t" style="top:373.96px;font-size:7.15px;line-height:7.15px;font-weight:400;color:#2b2b2b;left:13.10px;">MAGT1</div>
<div class="t" style="top:384.93px;font-size:7.15px;line-height:7.15px;font-weight:400;color:#2b2b2b;left:15.10px;">HSPA5</div>
<div class="t" style="top:395.90px;font-size:7.15px;line-height:7.15px;font-weight:400;color:#2b2b2b;left:16.10px;">TTC32</div>
<div class="t" style="top:406.87px;font-size:7.15px;line-height:7.15px;font-weight:400;color:#2b2b2b;left:14.10px;">MED22</div>
<div class="t" style="top:417.84px;font-size:7.15px;line-height:7.15px;font-weight:400;color:#2b2b2b;left:18.10px;">COG1</div>
<div class="t" style="top:428.81px;font-size:7.15px;line-height:7.15px;font-weight:400;color:#2b2b2b;left:15.10px;">TELO2</div>
<div class="t" style="top:200.70px;font-size:15.5px;line-height:15.5px;font-weight:700;color:#000;left:367.50px;">D</div>
<div class="t" style="top:263.30px;font-size:15.8px;line-height:15.8px;font-weight:400;color:#202020;left:425.80px;">O&lt;N&lt;H</div>
<div class="t" style="top:281.90px;font-size:15.8px;line-height:15.8px;font-weight:400;color:#202020;left:425.80px;">O&lt;N<span style="font-size:0.86em">&#8776;</span>H</div>
<div class="t" style="top:275.30px;font-size:8.7px;line-height:8.7px;font-weight:400;color:#202020;left:485.70px;">z-score</div>
<div class="t" style="top:284.20px;font-size:7.5px;line-height:7.5px;font-weight:400;color:#202020;left:521.50px;">-2</div>
<div class="t" style="top:284.20px;font-size:7.5px;line-height:7.5px;font-weight:400;color:#202020;left:535.80px;">-1</div>
<div class="t" style="top:284.20px;font-size:7.5px;line-height:7.5px;font-weight:400;color:#202020;left:551.30px;">0</div>
<div class="t" style="top:284.20px;font-size:7.5px;line-height:7.5px;font-weight:400;color:#202020;left:565.10px;">1</div>
<div class="t" style="top:284.20px;font-size:7.5px;line-height:7.5px;font-weight:400;color:#202020;left:580.20px;">2</div>
<div class="t" style="top:302.20px;font-size:11.6px;line-height:11.6px;font-weight:400;color:#335b86;transform:scaleY(1.08);transform-origin:0 5.86px;left:405.70px;">WT</div>
<div class="t" style="top:316.30px;font-size:11.6px;line-height:11.6px;font-weight:400;color:#335b86;transform:scaleY(1.08);transform-origin:0 5.86px;left:406.60px;">N</div>
<div class="t" style="top:302.20px;font-size:11.6px;line-height:11.6px;font-weight:400;color:#335b86;transform:scaleY(1.08);transform-origin:0 5.86px;left:453.60px;">WT</div>
<div class="t" style="top:316.30px;font-size:11.6px;line-height:11.6px;font-weight:400;color:#335b86;transform:scaleY(1.08);transform-origin:0 5.86px;left:454.90px;">H</div>
<div class="t" style="top:302.20px;font-size:11.6px;line-height:11.6px;font-weight:400;color:#335b86;transform:scaleY(1.08);transform-origin:0 5.86px;left:501.50px;">WT</div>
<div class="t" style="top:316.30px;font-size:11.6px;line-height:11.6px;font-weight:400;color:#335b86;transform:scaleY(1.08);transform-origin:0 5.86px;left:503.30px;">O</div>
<div class="t" style="top:304.05px;font-size:11.0px;line-height:11.0px;font-weight:400;color:#335b86;transform:scaleY(1.08);transform-origin:0 5.55px;left:537.20px;">TP53<sup>KD</sup></div>
<div class="t" style="top:316.30px;font-size:11.6px;line-height:11.6px;font-weight:400;color:#335b86;transform:scaleY(1.08);transform-origin:0 5.86px;left:546.70px;">N</div>
<div class="t" style="top:304.05px;font-size:11.0px;line-height:11.0px;font-weight:400;color:#335b86;transform:scaleY(1.08);transform-origin:0 5.55px;left:581.60px;">TP53<sup>KD</sup></div>
<div class="t" style="top:316.30px;font-size:11.6px;line-height:11.6px;font-weight:400;color:#335b86;transform:scaleY(1.08);transform-origin:0 5.86px;left:598.70px;">H</div>
<div class="t" style="top:304.05px;font-size:11.0px;line-height:11.0px;font-weight:400;color:#335b86;transform:scaleY(1.08);transform-origin:0 5.55px;left:629.10px;">TP53<sup>KD</sup></div>
<div class="t" style="top:316.30px;font-size:11.6px;line-height:11.6px;font-weight:400;color:#335b86;transform:scaleY(1.08);transform-origin:0 5.86px;left:645.00px;">O</div>
<div class="t" style="top:335.70px;font-size:7.15px;line-height:7.15px;font-weight:400;color:#2b2b2b;left:359.10px;">INPP5F</div>
<div class="t" style="top:346.00px;font-size:7.15px;line-height:7.15px;font-weight:400;color:#2b2b2b;left:365.10px;">CRYZ</div>
<div class="t" style="top:356.30px;font-size:7.15px;line-height:7.15px;font-weight:400;color:#2b2b2b;left:361.10px;">GULP1</div>
<div class="t" style="top:366.60px;font-size:7.15px;line-height:7.15px;font-weight:400;color:#2b2b2b;left:360.10px;">NUDT9</div>
<div class="t" style="top:376.90px;font-size:7.15px;line-height:7.15px;font-weight:400;color:#2b2b2b;left:365.10px;">SCD5</div>
<div class="t" style="top:387.20px;font-size:7.15px;line-height:7.15px;font-weight:400;color:#2b2b2b;left:365.10px;">HPSE</div>
<div class="t" style="top:511.80px;font-size:15.5px;line-height:15.5px;font-weight:700;color:#000;left:29.20px;">E</div>
<div class="t" style="top:492.70px;font-size:11px;line-height:11px;font-weight:400;color:#202020;left:271.70px;">z-score</div>
<div class="t" style="top:505.40px;font-size:10px;line-height:10px;font-weight:400;color:#202020;left:309.20px;">-2</div>
<div class="t" style="top:505.40px;font-size:10px;line-height:10px;font-weight:400;color:#202020;left:330.50px;">-1</div>
<div class="t" style="top:505.40px;font-size:10px;line-height:10px;font-weight:400;color:#202020;left:353.00px;">0</div>
<div class="t" style="top:505.40px;font-size:10px;line-height:10px;font-weight:400;color:#202020;left:373.60px;">1</div>
<div class="t" style="top:505.40px;font-size:10px;line-height:10px;font-weight:400;color:#202020;left:395.80px;">2</div>
<div class="t" style="top:533.70px;font-size:11.6px;line-height:11.6px;font-weight:400;color:#335b86;transform:scaleY(1.08);transform-origin:0 5.86px;left:168.00px;">WT</div>
<div class="t" style="top:548.80px;font-size:11.6px;line-height:11.6px;font-weight:400;color:#335b86;transform:scaleY(1.08);transform-origin:0 5.86px;left:174.00px;">N</div>
<div class="t" style="top:533.70px;font-size:11.6px;line-height:11.6px;font-weight:400;color:#335b86;transform:scaleY(1.08);transform-origin:0 5.86px;left:229.00px;">WT</div>
<div class="t" style="top:548.80px;font-size:11.6px;line-height:11.6px;font-weight:400;color:#335b86;transform:scaleY(1.08);transform-origin:0 5.86px;left:232.20px;">H</div>
<div class="t" style="top:533.70px;font-size:11.6px;line-height:11.6px;font-weight:400;color:#335b86;transform:scaleY(1.08);transform-origin:0 5.86px;left:293.70px;">WT</div>
<div class="t" style="top:548.80px;font-size:11.6px;line-height:11.6px;font-weight:400;color:#335b86;transform:scaleY(1.08);transform-origin:0 5.86px;left:297.00px;">O</div>
<div class="t" style="top:535.55px;font-size:11.0px;line-height:11.0px;font-weight:400;color:#335b86;transform:scaleY(1.08);transform-origin:0 5.55px;left:344.80px;">Notch1<sup>KD</sup></div>
<div class="t" style="top:548.80px;font-size:11.6px;line-height:11.6px;font-weight:400;color:#335b86;transform:scaleY(1.08);transform-origin:0 5.86px;left:358.70px;">N</div>
<div class="t" style="top:535.55px;font-size:11.0px;line-height:11.0px;font-weight:400;color:#335b86;transform:scaleY(1.08);transform-origin:0 5.55px;left:400.60px;">Notch1<sup>KD</sup></div>
<div class="t" style="top:548.80px;font-size:11.6px;line-height:11.6px;font-weight:400;color:#335b86;transform:scaleY(1.08);transform-origin:0 5.86px;left:417.20px;">H</div>
<div class="t" style="top:535.55px;font-size:11.0px;line-height:11.0px;font-weight:400;color:#335b86;transform:scaleY(1.08);transform-origin:0 5.55px;left:459.40px;">Notch1<sup>KD</sup></div>
<div class="t" style="top:548.80px;font-size:11.6px;line-height:11.6px;font-weight:400;color:#335b86;transform:scaleY(1.08);transform-origin:0 5.86px;left:486.70px;">O</div>
<div class="t" style="top:568.60px;font-size:14.7px;line-height:14.7px;font-weight:400;color:#202020;left:54.80px;">H&lt;N&lt;O</div>
<div class="t" style="top:590.90px;font-size:14.7px;line-height:14.7px;font-weight:400;color:#202020;left:55.80px;">O&lt;H&lt;N</div>
<div class="t" style="top:603.70px;font-size:14.7px;line-height:14.7px;font-weight:400;color:#202020;left:55.80px;">O&lt;N&lt;H</div>
<div class="t" style="top:616.80px;font-size:14.7px;line-height:14.7px;font-weight:400;color:#202020;left:54.80px;">N&lt;H&lt;O</div>
<div class="t" style="top:568.50px;font-size:9px;line-height:9px;font-weight:400;color:#2b2b2b;left:113.30px;">NBPF12</div>
<div class="t" style="top:580.90px;font-size:9px;line-height:9px;font-weight:400;color:#2b2b2b;left:110.30px;">CCDC9B</div>
<div class="t" style="top:593.30px;font-size:9px;line-height:9px;font-weight:400;color:#2b2b2b;left:117.30px;">CDCA3</div>
<div class="t" style="top:605.70px;font-size:9px;line-height:9px;font-weight:400;color:#2b2b2b;left:118.30px;">COX17</div>
<div class="t" style="top:618.10px;font-size:9px;line-height:9px;font-weight:400;color:#2b2b2b;left:116.30px;">GABRE</div>
</body></html>
